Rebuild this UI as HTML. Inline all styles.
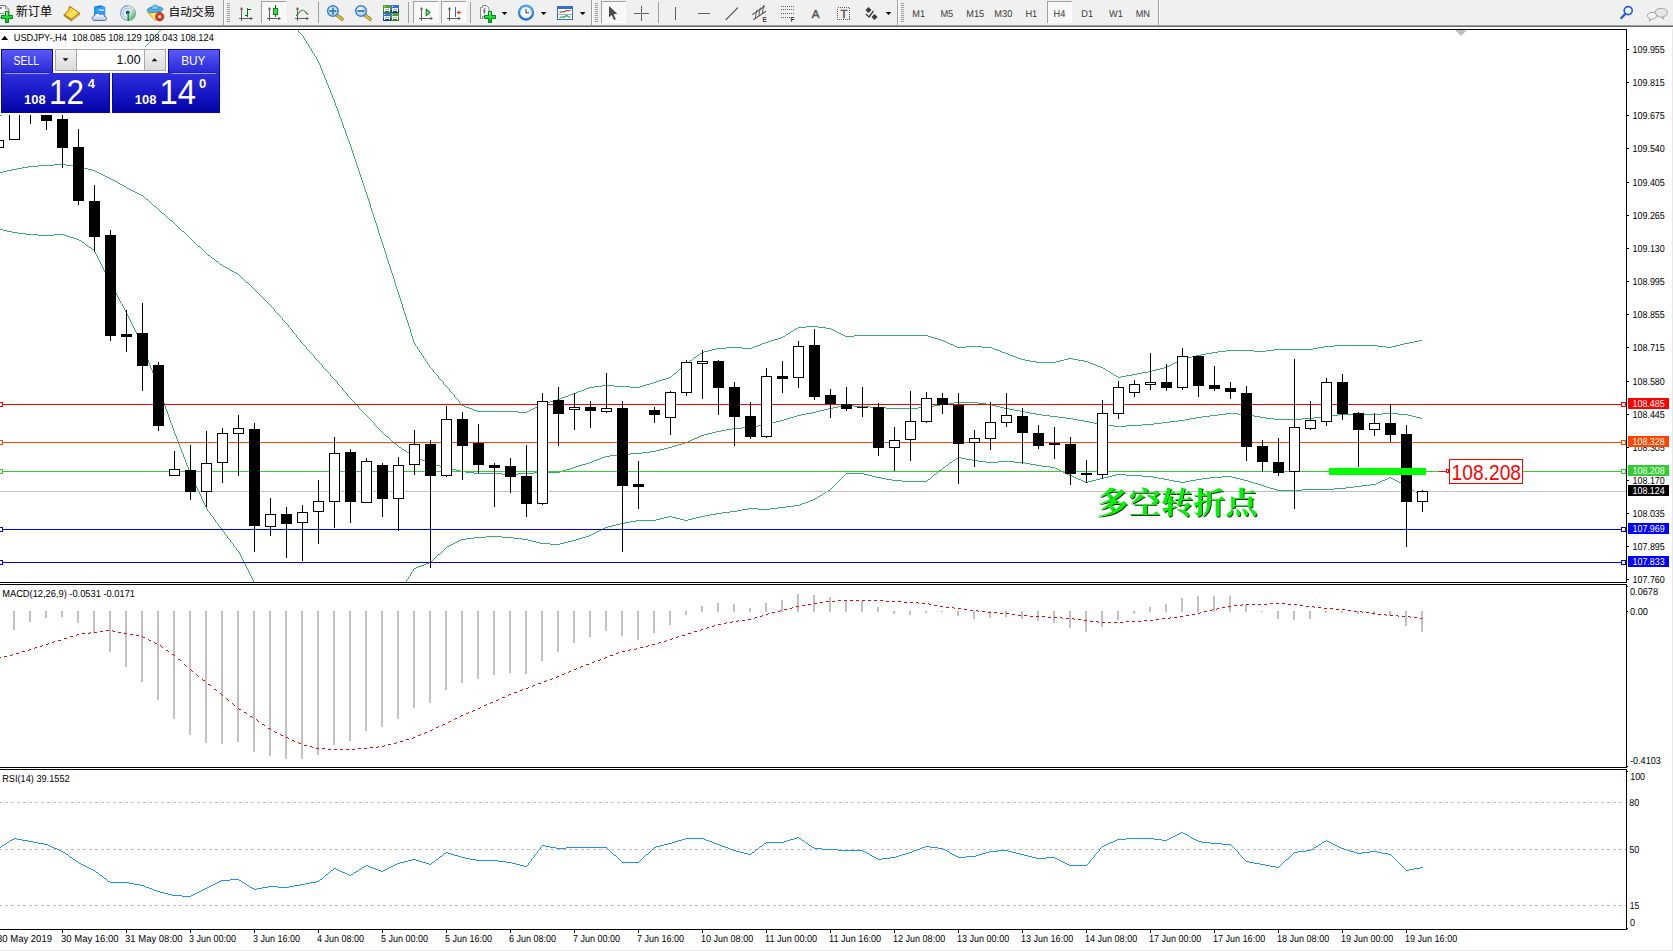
<!DOCTYPE html>
<html lang="zh-CN"><head><meta charset="utf-8"><title>USDJPY-,H4</title>
<style>
html,body{margin:0;padding:0;background:#fff;}
body{width:1673px;height:951px;overflow:hidden;position:relative;font-family:"Liberation Sans", sans-serif;}
.cv{position:absolute;left:0;top:0;display:block;}
.tb{position:absolute;left:0;top:0;width:1673px;height:29px;display:block;}
</style></head><body>
<svg class="cv" width="1673" height="951" viewBox="0 0 1673 951" shape-rendering="crispEdges">
<defs><clipPath id="cm"><rect x="0" y="30" width="1626" height="552"/></clipPath><linearGradient id="gs" x1="0" y1="0" x2="0" y2="1"><stop offset="0" stop-color="#5a5af8"/><stop offset="1" stop-color="#2424d6"/></linearGradient><linearGradient id="gp" x1="0" y1="0" x2="0" y2="1"><stop offset="0" stop-color="#3030de"/><stop offset="0.55" stop-color="#1616c4"/><stop offset="1" stop-color="#0404a6"/></linearGradient><linearGradient id="gbtn" x1="0" y1="0" x2="0" y2="1"><stop offset="0" stop-color="#f2f2f2"/><stop offset="1" stop-color="#dcdcdc"/></linearGradient><filter id="sh" x="-5%" y="-20%" width="110%" height="140%"><feOffset in="SourceAlpha" dx="0.9" dy="0.5" result="o"/><feFlood flood-color="#0a300a"/><feComposite in2="o" operator="in" result="s"/><feMerge><feMergeNode in="s"/><feMergeNode in="SourceGraphic"/></feMerge></filter></defs>
<g clip-path="url(#cm)">
<path d="M0 115h2v1h-2zM0 172h3v1h-3zM0 229h3v1h-3zM2 114h2v1h-2zM3 171h4v1h-4zM3 230h4v1h-4zM4 113h2v1h-2zM6 112h3v1h-3zM7 170h5v1h-5zM7 231h5v1h-5zM9 111h2v1h-2zM11 110h2v1h-2zM12 169h5v1h-5zM12 232h6v1h-6zM13 109h2v1h-2zM15 108h2v1h-2zM17 107h2v1h-2zM17 168h5v1h-5zM18 233h8v1h-8zM19 106h2v1h-2zM21 105h2v1h-2zM22 167h6v1h-6zM23 104h2v1h-2zM25 103h2v1h-2zM26 234h12v1h-12zM27 102h2v1h-2zM28 166h10v1h-10zM29 101h3v1h-3zM32 100h2v1h-2zM34 99h2v1h-2zM36 98h2v1h-2zM38 97h3v1h-3zM38 165h16v1h-16zM38 235h16v1h-16zM41 96h2v1h-2zM43 95h2v1h-2zM45 94h2v1h-2zM47 93h2v1h-2zM49 92h2v1h-2zM51 91h2v1h-2zM53 90h2v1h-2zM54 234h10v1h-10zM54 164h12v1h-12zM55 89h2v1h-2zM57 88h2v1h-2zM59 87h2v1h-2zM61 86h3v1h-3zM64 85h2v1h-2zM64 235h3v1h-3zM66 84h2v1h-2zM66 165h8v1h-8zM67 236h3v1h-3zM68 83h2v1h-2zM70 82h3v1h-3zM70 237h4v1h-4zM73 81h2v1h-2zM74 238h3v1h-3zM74 166h6v1h-6zM75 80h2v1h-2zM77 239h2v1h-2zM77 79h3v1h-3zM79 240h2v1h-2zM80 78h2v1h-2zM80 167h4v1h-4zM81 241h1v1h-1zM82 77h2v1h-2zM82 242h2v1h-2zM84 243h1v1h-1zM84 76h2v1h-2zM84 168h4v1h-4zM85 244h1v1h-1zM86 245h2v1h-2zM86 75h3v1h-3zM88 246h1v1h-1zM88 169h4v1h-4zM89 74h2v1h-2zM89 247h2v1h-2zM91 248h1v1h-1zM91 73h2v1h-2zM92 249h2v1h-2zM92 170h3v1h-3zM93 72h2v1h-2zM94 250h1v2h-1zM95 252h1v2h-1zM95 71h2v1h-2zM95 171h2v1h-2zM96 254h1v2h-1zM97 256h1v2h-1zM97 70h2v1h-2zM97 172h2v1h-2zM98 258h1v2h-1zM99 260h1v2h-1zM99 69h2v1h-2zM99 173h2v1h-2zM100 262h1v2h-1zM101 264h1v2h-1zM101 68h2v1h-2zM101 174h2v1h-2zM102 266h1v2h-1zM103 268h1v2h-1zM103 67h2v1h-2zM103 175h2v1h-2zM104 270h1v2h-1zM105 272h1v2h-1zM105 66h2v1h-2zM105 176h2v1h-2zM106 274h1v2h-1zM107 276h1v2h-1zM107 65h2v1h-2zM107 177h2v1h-2zM108 278h1v2h-1zM109 280h1v2h-1zM109 64h2v1h-2zM109 178h2v1h-2zM110 282h1v2h-1zM111 284h1v2h-1zM111 63h2v1h-2zM111 179h2v1h-2zM112 286h1v2h-1zM113 288h1v2h-1zM113 62h2v1h-2zM113 180h2v1h-2zM114 290h1v2h-1zM115 292h1v1h-1zM115 61h2v1h-2zM115 181h2v1h-2zM116 293h1v2h-1zM117 182h1v1h-1zM117 295h1v2h-1zM117 60h2v1h-2zM118 297h1v2h-1zM118 183h2v1h-2zM119 299h1v2h-1zM119 59h2v1h-2zM120 301h1v2h-1zM120 184h2v1h-2zM121 303h1v1h-1zM121 58h2v1h-2zM122 304h1v2h-1zM122 185h2v1h-2zM123 306h1v2h-1zM123 57h2v1h-2zM124 308h1v2h-1zM124 186h2v1h-2zM125 310h1v2h-1zM125 56h3v1h-3zM126 187h1v1h-1zM126 312h1v2h-1zM127 314h1v2h-1zM127 188h2v1h-2zM128 316h1v2h-1zM128 55h2v1h-2zM129 318h1v2h-1zM129 189h2v1h-2zM130 320h1v2h-1zM130 54h2v1h-2zM131 322h1v2h-1zM131 190h2v1h-2zM132 324h1v2h-1zM132 53h2v1h-2zM133 326h1v2h-1zM133 191h2v1h-2zM134 328h1v2h-1zM134 52h3v1h-3zM135 330h1v2h-1zM135 192h2v1h-2zM136 332h1v2h-1zM137 334h1v2h-1zM137 51h2v1h-2zM137 193h2v1h-2zM138 336h1v2h-1zM139 338h1v2h-1zM139 50h2v1h-2zM139 194h2v1h-2zM140 340h1v2h-1zM141 342h1v2h-1zM141 49h2v1h-2zM141 195h2v1h-2zM142 344h1v3h-1zM143 48h1v1h-1zM143 196h1v1h-1zM143 347h1v2h-1zM144 47h1v1h-1zM144 197h1v1h-1zM144 349h1v3h-1zM145 46h1v1h-1zM145 198h1v1h-1zM145 352h1v3h-1zM146 45h1v1h-1zM146 355h1v2h-1zM146 199h2v1h-2zM147 44h1v1h-1zM147 357h1v3h-1zM148 43h1v1h-1zM148 200h1v1h-1zM148 360h1v3h-1zM149 42h1v1h-1zM149 201h1v1h-1zM149 363h1v2h-1zM150 40h1v2h-1zM150 202h1v1h-1zM150 365h1v3h-1zM151 39h1v1h-1zM151 203h1v1h-1zM151 368h1v2h-1zM152 38h1v1h-1zM152 204h1v1h-1zM152 370h1v3h-1zM153 37h1v1h-1zM153 205h1v1h-1zM153 373h1v3h-1zM154 36h1v1h-1zM154 376h1v2h-1zM154 206h2v1h-2zM155 35h1v1h-1zM155 378h1v3h-1zM156 34h1v1h-1zM156 207h1v1h-1zM156 381h1v3h-1zM157 33h1v1h-1zM157 208h1v1h-1zM157 384h1v2h-1zM158 32h1v1h-1zM158 209h1v1h-1zM158 386h1v3h-1zM159 31h1v1h-1zM159 210h1v1h-1zM159 389h1v3h-1zM160 30h1v1h-1zM160 211h1v1h-1zM160 392h1v3h-1zM161 212h1v1h-1zM161 395h1v2h-1zM162 397h1v3h-1zM162 213h2v1h-2zM163 400h1v3h-1zM164 214h1v1h-1zM164 403h1v3h-1zM165 215h1v1h-1zM165 406h1v3h-1zM166 216h1v1h-1zM166 409h1v2h-1zM167 217h1v1h-1zM167 411h1v3h-1zM168 218h1v1h-1zM168 414h1v3h-1zM169 219h1v1h-1zM169 417h1v3h-1zM170 420h1v3h-1zM170 220h2v1h-2zM171 423h1v2h-1zM172 221h1v1h-1zM172 425h1v3h-1zM173 222h1v1h-1zM173 428h1v3h-1zM174 223h1v1h-1zM174 431h1v3h-1zM175 224h1v1h-1zM175 434h1v2h-1zM176 225h1v1h-1zM176 436h1v3h-1zM177 226h1v1h-1zM177 439h1v2h-1zM178 227h1v1h-1zM178 441h1v3h-1zM179 228h1v1h-1zM179 444h1v3h-1zM180 229h1v1h-1zM180 447h1v2h-1zM181 230h1v1h-1zM181 449h1v3h-1zM182 452h1v2h-1zM182 231h2v1h-2zM183 454h1v3h-1zM184 232h1v1h-1zM184 457h1v2h-1zM185 233h1v1h-1zM185 459h1v3h-1zM186 234h1v1h-1zM186 462h1v3h-1zM187 235h1v1h-1zM187 465h1v2h-1zM188 236h1v1h-1zM188 467h1v3h-1zM189 237h1v1h-1zM189 470h1v2h-1zM190 238h1v1h-1zM190 472h1v3h-1zM191 239h1v1h-1zM191 475h1v2h-1zM192 240h1v1h-1zM192 477h1v2h-1zM193 241h1v1h-1zM193 479h1v2h-1zM194 242h1v1h-1zM194 481h1v2h-1zM195 243h1v1h-1zM195 483h1v3h-1zM196 244h1v1h-1zM196 486h1v2h-1zM197 245h1v1h-1zM197 488h1v2h-1zM198 490h1v2h-1zM198 246h2v1h-2zM199 492h1v2h-1zM200 247h1v1h-1zM200 494h1v2h-1zM201 248h1v1h-1zM201 496h1v3h-1zM202 249h1v1h-1zM202 499h1v2h-1zM203 250h1v1h-1zM203 501h1v2h-1zM204 251h1v1h-1zM204 503h1v2h-1zM205 252h1v1h-1zM205 505h1v2h-1zM206 253h1v1h-1zM206 507h1v2h-1zM207 254h1v1h-1zM207 509h1v2h-1zM208 511h1v1h-1zM208 255h2v1h-2zM209 512h1v1h-1zM210 256h1v1h-1zM210 513h1v2h-1zM211 257h1v1h-1zM211 515h1v1h-1zM212 516h1v1h-1zM212 258h2v1h-2zM213 517h1v2h-1zM214 259h1v1h-1zM214 519h1v1h-1zM215 260h1v1h-1zM215 520h1v2h-1zM216 522h1v1h-1zM216 261h2v1h-2zM217 523h1v1h-1zM218 262h1v1h-1zM218 524h1v2h-1zM219 263h1v1h-1zM219 526h1v1h-1zM220 527h1v1h-1zM220 264h2v1h-2zM221 528h1v2h-1zM222 265h1v1h-1zM222 530h1v1h-1zM223 531h1v1h-1zM223 266h2v1h-2zM224 532h1v2h-1zM225 534h1v1h-1zM225 267h2v1h-2zM226 535h1v1h-1zM227 536h1v2h-1zM227 268h2v1h-2zM228 538h1v1h-1zM229 269h1v1h-1zM229 539h1v1h-1zM230 540h1v2h-1zM230 270h2v1h-2zM231 542h1v1h-1zM232 543h1v1h-1zM232 271h2v1h-2zM233 544h1v2h-1zM234 546h1v1h-1zM234 272h2v1h-2zM235 547h1v1h-1zM236 548h1v2h-1zM236 273h2v1h-2zM237 550h1v1h-1zM238 274h1v1h-1zM238 551h1v1h-1zM239 275h1v1h-1zM239 552h1v2h-1zM240 276h1v1h-1zM240 554h1v2h-1zM241 277h1v1h-1zM241 556h1v2h-1zM242 278h1v1h-1zM242 558h1v2h-1zM243 279h1v1h-1zM243 560h1v2h-1zM244 280h1v1h-1zM244 562h1v2h-1zM245 281h1v1h-1zM245 564h1v2h-1zM246 566h1v2h-1zM246 282h2v1h-2zM247 568h1v2h-1zM248 283h1v1h-1zM248 570h1v2h-1zM249 284h1v1h-1zM249 572h1v2h-1zM250 285h1v1h-1zM250 574h1v2h-1zM251 286h1v1h-1zM251 576h1v2h-1zM252 287h1v1h-1zM252 578h1v2h-1zM253 288h1v1h-1zM253 580h1v2h-1zM254 289h1v1h-1zM255 290h1v1h-1zM256 291h1v1h-1zM257 292h1v1h-1zM258 293h1v1h-1zM259 294h1v1h-1zM260 295h1v1h-1zM261 296h1v1h-1zM262 297h1v1h-1zM263 298h1v1h-1zM264 299h1v1h-1zM265 300h1v1h-1zM266 301h1v1h-1zM267 302h1v1h-1zM268 303h1v1h-1zM269 304h1v1h-1zM270 305h1v1h-1zM271 306h1v1h-1zM272 307h1v1h-1zM273 308h1v1h-1zM274 309h1v2h-1zM275 311h1v1h-1zM276 312h1v1h-1zM277 313h1v1h-1zM278 314h1v1h-1zM279 315h1v1h-1zM280 316h1v1h-1zM281 317h1v1h-1zM282 318h1v2h-1zM283 320h1v1h-1zM284 321h1v1h-1zM285 322h1v1h-1zM286 323h1v1h-1zM287 324h1v1h-1zM288 325h1v2h-1zM289 327h1v1h-1zM290 328h1v1h-1zM291 329h1v1h-1zM292 330h1v2h-1zM293 332h1v1h-1zM294 333h1v1h-1zM295 334h1v1h-1zM296 335h1v2h-1zM297 337h1v1h-1zM298 30h1v2h-1zM298 338h1v1h-1zM299 32h1v1h-1zM299 339h1v1h-1zM300 33h1v1h-1zM300 340h1v2h-1zM301 34h1v1h-1zM301 342h1v1h-1zM302 35h1v1h-1zM302 343h1v1h-1zM303 36h1v2h-1zM303 344h1v1h-1zM304 38h1v2h-1zM304 345h1v1h-1zM305 40h1v1h-1zM305 346h1v1h-1zM306 41h1v2h-1zM306 347h1v2h-1zM307 43h1v1h-1zM307 349h1v1h-1zM308 44h1v2h-1zM308 350h1v1h-1zM309 46h1v2h-1zM309 351h1v1h-1zM310 48h1v1h-1zM310 352h1v1h-1zM311 49h1v2h-1zM311 353h1v1h-1zM312 51h1v2h-1zM312 354h1v1h-1zM313 53h1v1h-1zM313 355h1v1h-1zM314 54h1v2h-1zM314 356h1v2h-1zM315 56h1v1h-1zM315 358h1v1h-1zM316 57h1v2h-1zM316 359h1v1h-1zM317 59h1v2h-1zM317 360h1v1h-1zM318 61h1v2h-1zM318 361h1v1h-1zM319 63h1v2h-1zM319 362h1v1h-1zM320 65h1v3h-1zM320 363h1v1h-1zM321 68h1v2h-1zM321 364h1v1h-1zM322 70h1v3h-1zM322 365h1v2h-1zM323 73h1v2h-1zM323 367h1v1h-1zM324 75h1v3h-1zM324 368h1v1h-1zM325 78h1v2h-1zM325 369h1v1h-1zM326 80h1v3h-1zM326 370h1v1h-1zM327 83h1v2h-1zM327 371h1v1h-1zM328 85h1v3h-1zM328 372h1v1h-1zM329 88h1v2h-1zM329 373h1v1h-1zM330 90h1v3h-1zM330 374h1v2h-1zM331 93h1v2h-1zM331 376h1v1h-1zM332 95h1v3h-1zM332 377h1v1h-1zM333 98h1v2h-1zM333 378h1v1h-1zM334 100h1v3h-1zM334 379h1v1h-1zM335 103h1v3h-1zM335 380h1v1h-1zM336 106h1v2h-1zM336 381h1v1h-1zM337 108h1v3h-1zM337 382h1v2h-1zM338 111h1v3h-1zM338 384h1v1h-1zM339 114h1v3h-1zM339 385h1v1h-1zM340 117h1v2h-1zM340 386h1v1h-1zM341 119h1v3h-1zM341 387h1v1h-1zM342 122h1v3h-1zM342 388h1v2h-1zM343 125h1v3h-1zM343 390h1v1h-1zM344 128h1v2h-1zM344 391h1v1h-1zM345 130h1v3h-1zM345 392h1v1h-1zM346 133h1v3h-1zM346 393h1v1h-1zM347 136h1v3h-1zM347 394h1v2h-1zM348 139h1v2h-1zM348 396h1v1h-1zM349 141h1v3h-1zM349 397h1v1h-1zM350 144h1v3h-1zM350 398h1v1h-1zM351 147h1v3h-1zM351 399h1v1h-1zM352 150h1v3h-1zM352 400h1v1h-1zM353 153h1v3h-1zM353 401h1v1h-1zM354 156h1v3h-1zM354 402h1v1h-1zM355 159h1v3h-1zM355 403h1v1h-1zM356 162h1v3h-1zM356 404h1v1h-1zM357 165h1v3h-1zM357 405h1v1h-1zM358 168h1v3h-1zM358 406h1v2h-1zM359 171h1v3h-1zM359 408h1v1h-1zM360 174h1v3h-1zM360 409h1v1h-1zM361 177h1v3h-1zM361 410h1v1h-1zM362 180h1v3h-1zM362 411h1v1h-1zM363 183h1v3h-1zM363 412h1v1h-1zM364 186h1v3h-1zM364 413h1v1h-1zM365 189h1v3h-1zM365 414h1v1h-1zM366 192h1v3h-1zM366 415h1v1h-1zM367 195h1v3h-1zM367 416h1v1h-1zM368 198h1v3h-1zM368 417h1v1h-1zM369 201h1v3h-1zM369 418h1v1h-1zM370 204h1v4h-1zM370 419h1v1h-1zM371 208h1v3h-1zM371 420h1v1h-1zM372 211h1v3h-1zM372 421h1v1h-1zM373 214h1v3h-1zM373 422h1v1h-1zM374 217h1v3h-1zM374 423h1v2h-1zM375 220h1v3h-1zM375 425h1v1h-1zM376 223h1v3h-1zM376 426h1v1h-1zM377 226h1v3h-1zM377 427h1v1h-1zM378 229h1v4h-1zM378 428h1v1h-1zM379 233h1v3h-1zM379 429h1v1h-1zM380 236h1v3h-1zM380 430h1v1h-1zM381 239h1v3h-1zM381 431h1v1h-1zM382 242h1v3h-1zM382 432h1v1h-1zM383 245h1v3h-1zM383 433h1v1h-1zM384 248h1v3h-1zM384 434h1v1h-1zM385 251h1v3h-1zM385 435h1v1h-1zM386 254h1v4h-1zM386 436h2v1h-2zM387 258h1v3h-1zM388 261h1v3h-1zM388 437h1v1h-1zM389 264h1v3h-1zM389 438h1v1h-1zM390 267h1v3h-1zM390 439h1v1h-1zM391 270h1v3h-1zM391 440h1v1h-1zM392 273h1v3h-1zM392 441h1v1h-1zM393 276h1v3h-1zM393 442h1v1h-1zM394 279h1v4h-1zM394 443h2v1h-2zM395 283h1v3h-1zM396 286h1v3h-1zM396 444h1v1h-1zM397 289h1v3h-1zM397 445h1v1h-1zM398 292h1v3h-1zM398 446h1v1h-1zM399 295h1v3h-1zM399 447h2v1h-2zM400 298h1v3h-1zM401 301h1v3h-1zM401 448h1v1h-1zM402 304h1v4h-1zM402 449h2v1h-2zM403 308h1v3h-1zM404 311h1v3h-1zM404 450h2v1h-2zM405 314h1v3h-1zM406 317h1v3h-1zM406 451h1v1h-1zM406 580h1v2h-1zM407 320h1v3h-1zM407 579h1v1h-1zM407 452h2v1h-2zM408 323h1v3h-1zM408 577h1v2h-1zM409 326h1v3h-1zM409 453h1v1h-1zM409 576h1v1h-1zM410 329h1v4h-1zM410 574h1v2h-1zM410 454h2v1h-2zM411 333h1v3h-1zM411 572h1v2h-1zM412 336h1v3h-1zM412 571h1v1h-1zM412 455h2v1h-2zM413 339h1v3h-1zM413 569h1v2h-1zM414 342h1v2h-1zM414 456h2v1h-2zM414 568h2v1h-2zM415 344h1v2h-1zM416 346h1v1h-1zM416 457h2v1h-2zM416 567h2v1h-2zM417 347h1v2h-1zM418 349h1v1h-1zM418 458h2v1h-2zM418 566h3v1h-3zM419 350h1v2h-1zM420 352h1v1h-1zM420 459h2v1h-2zM421 353h1v2h-1zM421 565h3v1h-3zM422 355h1v1h-1zM422 460h3v1h-3zM423 356h1v2h-1zM424 358h1v1h-1zM424 564h2v1h-2zM425 359h1v2h-1zM425 461h2v1h-2zM426 361h1v1h-1zM426 563h3v1h-3zM427 362h1v2h-1zM427 462h2v1h-2zM428 364h1v1h-1zM429 365h1v2h-1zM429 562h2v1h-2zM429 463h3v1h-3zM430 367h1v1h-1zM431 368h1v1h-1zM431 561h1v1h-1zM432 369h1v1h-1zM432 560h1v1h-1zM432 464h4v1h-4zM433 370h1v2h-1zM433 559h1v1h-1zM434 372h1v1h-1zM434 558h1v1h-1zM435 373h1v1h-1zM435 557h1v1h-1zM436 374h1v1h-1zM436 556h1v1h-1zM436 465h4v1h-4zM437 375h1v1h-1zM437 555h1v1h-1zM438 376h1v2h-1zM438 554h2v1h-2zM439 378h1v1h-1zM440 379h1v1h-1zM440 553h1v1h-1zM440 466h4v1h-4zM441 380h1v1h-1zM441 552h1v1h-1zM442 381h1v1h-1zM442 551h1v1h-1zM443 382h1v2h-1zM443 550h1v1h-1zM444 384h1v1h-1zM444 549h1v1h-1zM444 467h4v1h-4zM445 385h1v1h-1zM445 548h1v1h-1zM446 386h1v1h-1zM446 547h1v1h-1zM447 387h1v1h-1zM447 546h2v1h-2zM448 388h1v1h-1zM448 468h4v1h-4zM449 389h1v2h-1zM449 545h2v1h-2zM450 391h1v1h-1zM451 392h1v1h-1zM451 544h2v1h-2zM452 393h1v1h-1zM452 469h4v1h-4zM453 394h1v1h-1zM453 543h2v1h-2zM454 395h1v2h-1zM455 397h1v1h-1zM455 542h2v1h-2zM456 398h1v1h-1zM456 470h4v1h-4zM457 399h1v1h-1zM457 541h2v1h-2zM458 400h1v1h-1zM459 401h1v2h-1zM459 540h2v1h-2zM460 403h1v1h-1zM460 471h6v1h-6zM461 404h1v1h-1zM461 539h5v1h-5zM462 405h2v1h-2zM464 406h2v1h-2zM466 407h3v1h-3zM466 472h8v1h-8zM466 538h8v1h-8zM469 408h3v1h-3zM472 409h2v1h-2zM474 410h3v1h-3zM474 537h12v1h-12zM474 473h28v1h-28zM477 411h41v1h-41zM486 536h16v1h-16zM502 537h12v1h-12zM502 474h16v1h-16zM514 538h8v1h-8zM518 412h9v1h-9zM518 473h16v1h-16zM522 539h6v1h-6zM527 411h2v1h-2zM528 540h4v1h-4zM529 410h2v1h-2zM531 409h2v1h-2zM532 541h4v1h-4zM533 408h2v1h-2zM534 472h26v1h-26zM535 407h2v1h-2zM536 542h4v1h-4zM537 406h2v1h-2zM539 405h2v1h-2zM540 543h10v1h-10zM541 404h3v1h-3zM544 403h3v1h-3zM547 402h3v1h-3zM550 401h4v1h-4zM550 544h10v1h-10zM554 400h3v1h-3zM557 399h3v1h-3zM560 398h2v1h-2zM560 471h3v1h-3zM560 543h4v1h-4zM562 397h3v1h-3zM563 470h3v1h-3zM564 542h4v1h-4zM565 396h3v1h-3zM566 469h4v1h-4zM568 395h2v1h-2zM568 541h4v1h-4zM570 394h3v1h-3zM570 468h3v1h-3zM572 540h4v1h-4zM573 393h3v1h-3zM573 467h3v1h-3zM576 392h2v1h-2zM576 466h3v1h-3zM576 539h3v1h-3zM578 391h3v1h-3zM579 465h3v1h-3zM579 538h3v1h-3zM581 390h3v1h-3zM582 464h4v1h-4zM582 537h4v1h-4zM584 389h2v1h-2zM586 388h3v1h-3zM586 463h3v1h-3zM586 536h3v1h-3zM589 535h2v1h-2zM589 462h3v1h-3zM589 387h5v1h-5zM591 534h2v1h-2zM592 461h2v1h-2zM593 533h2v1h-2zM594 460h3v1h-3zM594 386h8v1h-8zM595 532h2v1h-2zM597 531h2v1h-2zM597 459h3v1h-3zM599 530h2v1h-2zM600 458h2v1h-2zM601 529h2v1h-2zM602 457h3v1h-3zM602 385h12v1h-12zM603 528h2v1h-2zM605 527h3v1h-3zM605 456h5v1h-5zM608 526h4v1h-4zM610 455h8v1h-8zM612 525h4v1h-4zM614 386h16v1h-16zM616 524h4v1h-4zM618 454h12v1h-12zM620 523h5v1h-5zM625 522h5v1h-5zM630 521h6v1h-6zM630 387h10v1h-10zM630 453h12v1h-12zM636 520h20v1h-20zM640 386h3v1h-3zM642 452h8v1h-8zM643 385h3v1h-3zM646 384h4v1h-4zM650 383h3v1h-3zM650 451h6v1h-6zM653 382h3v1h-3zM656 381h3v1h-3zM656 450h4v1h-4zM656 519h4v1h-4zM659 380h3v1h-3zM660 449h4v1h-4zM660 518h4v1h-4zM662 379h4v1h-4zM664 448h4v1h-4zM664 517h4v1h-4zM666 378h3v1h-3zM668 447h4v1h-4zM668 516h4v1h-4zM669 377h2v1h-2zM671 376h1v1h-1zM672 375h1v1h-1zM672 446h3v1h-3zM672 517h4v1h-4zM673 374h1v1h-1zM674 373h2v1h-2zM675 445h3v1h-3zM676 372h1v1h-1zM676 518h4v1h-4zM677 371h1v1h-1zM678 370h1v1h-1zM678 444h4v1h-4zM679 369h1v1h-1zM680 368h1v1h-1zM680 519h4v1h-4zM681 367h1v1h-1zM682 366h2v1h-2zM682 443h3v1h-3zM684 365h1v1h-1zM684 520h4v1h-4zM685 364h1v1h-1zM685 442h3v1h-3zM686 363h1v1h-1zM687 362h2v1h-2zM688 441h2v1h-2zM688 519h4v1h-4zM689 361h1v1h-1zM690 360h2v1h-2zM690 440h2v1h-2zM692 359h1v1h-1zM692 439h2v1h-2zM692 518h4v1h-4zM693 358h1v1h-1zM694 357h2v1h-2zM694 438h3v1h-3zM696 356h1v1h-1zM696 517h4v1h-4zM697 355h2v1h-2zM697 437h2v1h-2zM699 354h1v1h-1zM699 436h2v1h-2zM700 353h2v1h-2zM700 516h5v1h-5zM701 435h3v1h-3zM702 352h2v1h-2zM704 351h4v1h-4zM704 434h4v1h-4zM705 515h5v1h-5zM708 350h4v1h-4zM708 433h4v1h-4zM710 514h6v1h-6zM712 349h4v1h-4zM712 432h4v1h-4zM716 431h5v1h-5zM716 513h6v1h-6zM716 348h10v1h-10zM721 430h5v1h-5zM722 512h8v1h-8zM726 429h6v1h-6zM726 347h16v1h-16zM730 511h7v1h-7zM732 428h10v1h-10zM737 510h5v1h-5zM742 509h6v1h-6zM742 348h10v1h-10zM742 427h11v1h-11zM748 508h10v1h-10zM752 347h2v1h-2zM753 426h5v1h-5zM754 346h3v1h-3zM757 345h3v1h-3zM758 425h6v1h-6zM758 509h12v1h-12zM760 344h2v1h-2zM762 343h3v1h-3zM764 424h4v1h-4zM765 342h3v1h-3zM768 341h3v1h-3zM768 423h4v1h-4zM770 508h8v1h-8zM771 340h3v1h-3zM772 422h4v1h-4zM774 339h4v1h-4zM776 421h4v1h-4zM778 338h3v1h-3zM778 507h8v1h-8zM780 420h4v1h-4zM781 337h2v1h-2zM783 336h2v1h-2zM784 419h3v1h-3zM785 335h1v1h-1zM786 334h2v1h-2zM786 506h8v1h-8zM787 418h3v1h-3zM788 333h2v1h-2zM790 332h1v1h-1zM790 417h4v1h-4zM791 331h2v1h-2zM793 330h1v1h-1zM794 329h2v1h-2zM794 416h3v1h-3zM794 505h6v1h-6zM796 328h2v1h-2zM797 415h4v1h-4zM798 327h8v1h-8zM800 504h2v1h-2zM801 414h5v1h-5zM802 503h3v1h-3zM805 502h3v1h-3zM806 413h6v1h-6zM806 326h12v1h-12zM808 501h2v1h-2zM810 500h3v1h-3zM812 412h4v1h-4zM813 499h2v1h-2zM815 498h2v1h-2zM816 411h4v1h-4zM817 497h1v1h-1zM818 496h2v1h-2zM818 327h8v1h-8zM820 495h2v1h-2zM820 410h4v1h-4zM822 494h1v1h-1zM823 493h2v1h-2zM824 409h4v1h-4zM825 492h1v1h-1zM826 491h2v1h-2zM826 328h5v1h-5zM828 490h2v1h-2zM828 408h5v1h-5zM830 489h1v1h-1zM831 488h1v1h-1zM831 329h2v1h-2zM832 487h1v1h-1zM833 486h1v1h-1zM833 330h2v1h-2zM833 407h5v1h-5zM834 485h1v1h-1zM835 484h1v1h-1zM835 331h2v1h-2zM836 483h1v1h-1zM837 482h1v1h-1zM837 332h2v1h-2zM838 481h1v1h-1zM838 406h6v1h-6zM839 480h1v1h-1zM839 333h2v1h-2zM840 479h1v1h-1zM841 478h1v1h-1zM841 334h2v1h-2zM842 477h1v1h-1zM843 476h1v1h-1zM843 335h2v1h-2zM844 475h1v1h-1zM844 405h10v1h-10zM845 474h1v1h-1zM845 336h9v1h-9zM846 473h18v1h-18zM854 406h16v1h-16zM854 335h74v1h-74zM864 474h4v1h-4zM868 475h4v1h-4zM870 407h16v1h-16zM872 476h4v1h-4zM876 477h5v1h-5zM881 478h5v1h-5zM886 479h6v1h-6zM886 408h32v1h-32zM892 480h10v1h-10zM902 481h25v1h-25zM918 407h11v1h-11zM927 480h1v1h-1zM928 479h2v1h-2zM928 336h3v1h-3zM929 406h5v1h-5zM930 478h1v1h-1zM931 477h1v1h-1zM931 337h3v1h-3zM932 476h1v1h-1zM933 475h1v1h-1zM934 474h2v1h-2zM934 338h4v1h-4zM934 405h6v1h-6zM936 473h1v1h-1zM937 472h1v1h-1zM938 471h1v1h-1zM938 339h3v1h-3zM939 470h2v1h-2zM940 404h6v1h-6zM941 469h1v1h-1zM941 340h3v1h-3zM942 468h1v1h-1zM943 467h2v1h-2zM944 341h2v1h-2zM945 466h1v1h-1zM946 342h2v1h-2zM946 465h2v1h-2zM946 403h8v1h-8zM948 464h1v1h-1zM948 343h2v1h-2zM949 463h1v1h-1zM950 462h2v1h-2zM950 344h3v1h-3zM952 461h1v1h-1zM953 345h2v1h-2zM953 460h2v1h-2zM954 402h24v1h-24zM955 459h1v1h-1zM955 346h2v1h-2zM956 458h2v1h-2zM957 347h9v1h-9zM958 457h3v1h-3zM961 458h5v1h-5zM966 459h6v1h-6zM966 346h16v1h-16zM972 460h6v1h-6zM978 403h8v1h-8zM978 461h8v1h-8zM982 347h10v1h-10zM986 404h6v1h-6zM986 462h12v1h-12zM992 348h2v1h-2zM992 405h4v1h-4zM994 349h3v1h-3zM996 406h4v1h-4zM997 350h3v1h-3zM998 461h16v1h-16zM1000 351h2v1h-2zM1000 407h4v1h-4zM1002 352h3v1h-3zM1004 408h5v1h-5zM1005 353h3v1h-3zM1008 354h2v1h-2zM1009 409h5v1h-5zM1010 355h3v1h-3zM1013 356h3v1h-3zM1014 410h6v1h-6zM1014 462h11v1h-11zM1016 357h2v1h-2zM1018 358h3v1h-3zM1020 411h5v1h-5zM1021 359h4v1h-4zM1025 360h5v1h-5zM1025 412h5v1h-5zM1025 463h5v1h-5zM1030 361h6v1h-6zM1030 413h6v1h-6zM1030 464h6v1h-6zM1036 414h6v1h-6zM1036 465h6v1h-6zM1036 362h20v1h-20zM1042 415h8v1h-8zM1042 466h8v1h-8zM1050 467h5v1h-5zM1050 416h8v1h-8zM1055 468h2v1h-2zM1056 361h4v1h-4zM1057 469h2v1h-2zM1058 417h8v1h-8zM1059 470h2v1h-2zM1060 360h4v1h-4zM1061 471h2v1h-2zM1063 472h2v1h-2zM1064 359h4v1h-4zM1065 473h2v1h-2zM1066 418h7v1h-7zM1067 474h2v1h-2zM1068 358h5v1h-5zM1069 475h3v1h-3zM1072 476h2v1h-2zM1073 359h5v1h-5zM1073 419h5v1h-5zM1074 477h2v1h-2zM1076 478h2v1h-2zM1078 479h3v1h-3zM1078 360h6v1h-6zM1078 420h6v1h-6zM1081 480h2v1h-2zM1083 481h2v1h-2zM1084 361h4v1h-4zM1084 421h5v1h-5zM1085 482h3v1h-3zM1088 362h2v1h-2zM1088 481h4v1h-4zM1089 422h5v1h-5zM1090 363h3v1h-3zM1092 480h4v1h-4zM1093 364h3v1h-3zM1094 423h6v1h-6zM1096 365h2v1h-2zM1096 479h4v1h-4zM1098 366h3v1h-3zM1100 478h4v1h-4zM1100 424h6v1h-6zM1101 367h2v1h-2zM1103 368h2v1h-2zM1104 477h4v1h-4zM1105 369h1v1h-1zM1106 370h2v1h-2zM1106 425h8v1h-8zM1108 371h2v1h-2zM1108 476h4v1h-4zM1110 372h1v1h-1zM1111 373h2v1h-2zM1112 475h4v1h-4zM1113 374h1v1h-1zM1114 375h2v1h-2zM1114 426h12v1h-12zM1116 376h2v1h-2zM1116 474h10v1h-10zM1118 377h3v1h-3zM1121 376h5v1h-5zM1126 375h6v1h-6zM1126 425h16v1h-16zM1126 475h16v1h-16zM1132 374h5v1h-5zM1137 373h5v1h-5zM1142 372h6v1h-6zM1142 476h11v1h-11zM1142 424h12v1h-12zM1148 371h4v1h-4zM1152 370h4v1h-4zM1153 477h5v1h-5zM1154 423h8v1h-8zM1156 369h4v1h-4zM1158 478h6v1h-6zM1160 368h4v1h-4zM1162 422h8v1h-8zM1164 367h3v1h-3zM1164 479h5v1h-5zM1167 366h2v1h-2zM1169 365h2v1h-2zM1169 480h5v1h-5zM1170 421h8v1h-8zM1171 364h2v1h-2zM1173 363h2v1h-2zM1174 481h6v1h-6zM1175 362h2v1h-2zM1177 361h2v1h-2zM1178 420h7v1h-7zM1179 360h2v1h-2zM1180 482h5v1h-5zM1181 359h3v1h-3zM1184 358h4v1h-4zM1185 419h5v1h-5zM1185 481h5v1h-5zM1188 357h4v1h-4zM1190 418h6v1h-6zM1190 480h6v1h-6zM1192 356h4v1h-4zM1196 355h5v1h-5zM1196 417h6v1h-6zM1196 479h6v1h-6zM1201 354h5v1h-5zM1202 416h8v1h-8zM1202 478h8v1h-8zM1206 353h6v1h-6zM1210 415h8v1h-8zM1210 477h12v1h-12zM1212 352h6v1h-6zM1218 351h8v1h-8zM1218 414h8v1h-8zM1222 476h10v1h-10zM1226 413h12v1h-12zM1226 350h28v1h-28zM1232 477h4v1h-4zM1236 478h4v1h-4zM1238 414h11v1h-11zM1240 479h4v1h-4zM1244 480h4v1h-4zM1248 481h3v1h-3zM1249 415h5v1h-5zM1251 482h3v1h-3zM1254 483h4v1h-4zM1254 416h6v1h-6zM1254 351h12v1h-12zM1258 484h3v1h-3zM1260 417h6v1h-6zM1261 485h3v1h-3zM1264 486h3v1h-3zM1266 350h8v1h-8zM1266 418h8v1h-8zM1267 487h3v1h-3zM1270 488h4v1h-4zM1274 489h3v1h-3zM1274 419h28v1h-28zM1274 349h39v1h-39zM1277 490h25v1h-25zM1302 418h12v1h-12zM1302 489h32v1h-32zM1313 348h5v1h-5zM1314 417h8v1h-8zM1318 347h6v1h-6zM1322 416h8v1h-8zM1324 346h10v1h-10zM1330 415h8v1h-8zM1334 488h12v1h-12zM1334 345h44v1h-44zM1338 414h44v1h-44zM1346 487h8v1h-8zM1354 486h8v1h-8zM1362 485h8v1h-8zM1370 484h6v1h-6zM1376 483h2v1h-2zM1378 482h2v1h-2zM1378 346h8v1h-8zM1380 481h2v1h-2zM1382 480h3v1h-3zM1382 413h16v1h-16zM1385 479h2v1h-2zM1386 347h6v1h-6zM1387 478h2v1h-2zM1389 477h2v1h-2zM1391 478h2v1h-2zM1392 346h4v1h-4zM1393 479h2v1h-2zM1395 480h2v1h-2zM1396 345h4v1h-4zM1397 481h2v1h-2zM1398 414h10v1h-10zM1399 482h2v1h-2zM1400 344h4v1h-4zM1401 483h2v1h-2zM1403 484h2v1h-2zM1404 343h5v1h-5zM1405 485h2v1h-2zM1407 486h2v1h-2zM1408 415h4v1h-4zM1409 487h1v1h-1zM1409 342h5v1h-5zM1410 488h2v1h-2zM1412 489h1v1h-1zM1412 416h4v1h-4zM1413 490h1v1h-1zM1414 491h2v1h-2zM1414 341h5v1h-5zM1416 492h1v1h-1zM1416 417h4v1h-4zM1417 493h2v1h-2zM1419 494h1v1h-1zM1419 340h3v1h-3zM1420 418h2v1h-2zM1420 495h2v1h-2zM1422 496h1v1h-1z" fill="#36ad6c"/>
<rect x="0" y="404" width="1626" height="1" fill="#ff0000"/>
<rect x="0" y="442" width="1626" height="1" fill="#ff4500"/>
<rect x="0" y="471" width="1626" height="1" fill="#32cd32"/>
<rect x="0" y="491" width="1626" height="1" fill="#c0c0c0"/>
<rect x="0" y="529" width="1626" height="1" fill="#0000ff"/>
<rect x="0" y="562" width="1626" height="1" fill="#0000ff"/>
<rect x="-2" y="140" width="1" height="8" fill="#000"/>
<rect x="-7" y="140" width="11" height="8" fill="#000"/>
<rect x="-6" y="141" width="9" height="6" fill="#fff"/>
<rect x="14" y="100" width="1" height="40" fill="#000"/>
<rect x="9" y="100" width="11" height="40" fill="#000"/>
<rect x="10" y="101" width="9" height="38" fill="#fff"/>
<rect x="30" y="100" width="1" height="24" fill="#000"/>
<rect x="25" y="100" width="11" height="2" fill="#000"/>
<rect x="46" y="100" width="1" height="30" fill="#000"/>
<rect x="41" y="100" width="11" height="21" fill="#000"/>
<rect x="62" y="100" width="1" height="68" fill="#000"/>
<rect x="57" y="119" width="11" height="29" fill="#000"/>
<rect x="78" y="129" width="1" height="76" fill="#000"/>
<rect x="73" y="147" width="11" height="54" fill="#000"/>
<rect x="94" y="185" width="1" height="67" fill="#000"/>
<rect x="89" y="201" width="11" height="36" fill="#000"/>
<rect x="110" y="230" width="1" height="111" fill="#000"/>
<rect x="105" y="235" width="11" height="101" fill="#000"/>
<rect x="126" y="310" width="1" height="42" fill="#000"/>
<rect x="121" y="334" width="11" height="3" fill="#000"/>
<rect x="142" y="303" width="1" height="88" fill="#000"/>
<rect x="137" y="333" width="11" height="33" fill="#000"/>
<rect x="158" y="362" width="1" height="69" fill="#000"/>
<rect x="153" y="365" width="11" height="61" fill="#000"/>
<rect x="174" y="451" width="1" height="25" fill="#000"/>
<rect x="169" y="469" width="11" height="7" fill="#000"/>
<rect x="170" y="470" width="9" height="5" fill="#fff"/>
<rect x="190" y="445" width="1" height="55" fill="#000"/>
<rect x="185" y="470" width="11" height="22" fill="#000"/>
<rect x="206" y="431" width="1" height="76" fill="#000"/>
<rect x="201" y="463" width="11" height="29" fill="#000"/>
<rect x="202" y="464" width="9" height="27" fill="#fff"/>
<rect x="222" y="428" width="1" height="55" fill="#000"/>
<rect x="217" y="433" width="11" height="30" fill="#000"/>
<rect x="218" y="434" width="9" height="28" fill="#fff"/>
<rect x="238" y="415" width="1" height="61" fill="#000"/>
<rect x="233" y="428" width="11" height="6" fill="#000"/>
<rect x="234" y="429" width="9" height="4" fill="#fff"/>
<rect x="254" y="423" width="1" height="129" fill="#000"/>
<rect x="249" y="429" width="11" height="97" fill="#000"/>
<rect x="270" y="498" width="1" height="38" fill="#000"/>
<rect x="265" y="514" width="11" height="13" fill="#000"/>
<rect x="266" y="515" width="9" height="11" fill="#fff"/>
<rect x="286" y="507" width="1" height="51" fill="#000"/>
<rect x="281" y="514" width="11" height="10" fill="#000"/>
<rect x="302" y="505" width="1" height="56" fill="#000"/>
<rect x="297" y="512" width="11" height="11" fill="#000"/>
<rect x="298" y="513" width="9" height="9" fill="#fff"/>
<rect x="318" y="480" width="1" height="64" fill="#000"/>
<rect x="313" y="501" width="11" height="11" fill="#000"/>
<rect x="314" y="502" width="9" height="9" fill="#fff"/>
<rect x="334" y="437" width="1" height="91" fill="#000"/>
<rect x="329" y="453" width="11" height="49" fill="#000"/>
<rect x="330" y="454" width="9" height="47" fill="#fff"/>
<rect x="350" y="449" width="1" height="74" fill="#000"/>
<rect x="345" y="452" width="11" height="50" fill="#000"/>
<rect x="366" y="458" width="1" height="45" fill="#000"/>
<rect x="361" y="461" width="11" height="42" fill="#000"/>
<rect x="362" y="462" width="9" height="40" fill="#fff"/>
<rect x="382" y="463" width="1" height="54" fill="#000"/>
<rect x="377" y="465" width="11" height="34" fill="#000"/>
<rect x="398" y="457" width="1" height="74" fill="#000"/>
<rect x="393" y="465" width="11" height="34" fill="#000"/>
<rect x="394" y="466" width="9" height="32" fill="#fff"/>
<rect x="414" y="430" width="1" height="45" fill="#000"/>
<rect x="409" y="444" width="11" height="21" fill="#000"/>
<rect x="410" y="445" width="9" height="19" fill="#fff"/>
<rect x="430" y="440" width="1" height="128" fill="#000"/>
<rect x="425" y="444" width="11" height="32" fill="#000"/>
<rect x="446" y="406" width="1" height="71" fill="#000"/>
<rect x="441" y="419" width="11" height="57" fill="#000"/>
<rect x="442" y="420" width="9" height="55" fill="#fff"/>
<rect x="462" y="412" width="1" height="68" fill="#000"/>
<rect x="457" y="419" width="11" height="27" fill="#000"/>
<rect x="478" y="424" width="1" height="49" fill="#000"/>
<rect x="473" y="443" width="11" height="22" fill="#000"/>
<rect x="494" y="463" width="1" height="44" fill="#000"/>
<rect x="489" y="465" width="11" height="3" fill="#000"/>
<rect x="510" y="458" width="1" height="35" fill="#000"/>
<rect x="505" y="466" width="11" height="11" fill="#000"/>
<rect x="526" y="445" width="1" height="72" fill="#000"/>
<rect x="521" y="476" width="11" height="28" fill="#000"/>
<rect x="542" y="393" width="1" height="112" fill="#000"/>
<rect x="537" y="401" width="11" height="103" fill="#000"/>
<rect x="538" y="402" width="9" height="101" fill="#fff"/>
<rect x="558" y="387" width="1" height="59" fill="#000"/>
<rect x="553" y="400" width="11" height="14" fill="#000"/>
<rect x="574" y="393" width="1" height="37" fill="#000"/>
<rect x="569" y="407" width="11" height="3" fill="#000"/>
<rect x="570" y="408" width="9" height="1" fill="#fff"/>
<rect x="590" y="401" width="1" height="27" fill="#000"/>
<rect x="585" y="407" width="11" height="4" fill="#000"/>
<rect x="606" y="373" width="1" height="40" fill="#000"/>
<rect x="601" y="408" width="11" height="4" fill="#000"/>
<rect x="602" y="409" width="9" height="2" fill="#fff"/>
<rect x="622" y="401" width="1" height="151" fill="#000"/>
<rect x="617" y="408" width="11" height="78" fill="#000"/>
<rect x="638" y="461" width="1" height="48" fill="#000"/>
<rect x="633" y="484" width="11" height="3" fill="#000"/>
<rect x="654" y="407" width="1" height="16" fill="#000"/>
<rect x="649" y="410" width="11" height="5" fill="#000"/>
<rect x="670" y="391" width="1" height="44" fill="#000"/>
<rect x="665" y="392" width="11" height="26" fill="#000"/>
<rect x="666" y="393" width="9" height="24" fill="#fff"/>
<rect x="686" y="360" width="1" height="36" fill="#000"/>
<rect x="681" y="362" width="11" height="31" fill="#000"/>
<rect x="682" y="363" width="9" height="29" fill="#fff"/>
<rect x="702" y="350" width="1" height="49" fill="#000"/>
<rect x="697" y="361" width="11" height="3" fill="#000"/>
<rect x="698" y="362" width="9" height="1" fill="#fff"/>
<rect x="718" y="360" width="1" height="55" fill="#000"/>
<rect x="713" y="361" width="11" height="27" fill="#000"/>
<rect x="734" y="382" width="1" height="64" fill="#000"/>
<rect x="729" y="387" width="11" height="30" fill="#000"/>
<rect x="750" y="402" width="1" height="37" fill="#000"/>
<rect x="745" y="416" width="11" height="21" fill="#000"/>
<rect x="766" y="368" width="1" height="70" fill="#000"/>
<rect x="761" y="376" width="11" height="61" fill="#000"/>
<rect x="762" y="377" width="9" height="59" fill="#fff"/>
<rect x="782" y="361" width="1" height="32" fill="#000"/>
<rect x="777" y="376" width="11" height="3" fill="#000"/>
<rect x="798" y="341" width="1" height="47" fill="#000"/>
<rect x="793" y="346" width="11" height="32" fill="#000"/>
<rect x="794" y="347" width="9" height="30" fill="#fff"/>
<rect x="814" y="329" width="1" height="71" fill="#000"/>
<rect x="809" y="345" width="11" height="52" fill="#000"/>
<rect x="830" y="389" width="1" height="29" fill="#000"/>
<rect x="825" y="395" width="11" height="9" fill="#000"/>
<rect x="846" y="387" width="1" height="24" fill="#000"/>
<rect x="841" y="404" width="11" height="5" fill="#000"/>
<rect x="862" y="387" width="1" height="30" fill="#000"/>
<rect x="857" y="407" width="11" height="1" fill="#000"/>
<rect x="878" y="403" width="1" height="53" fill="#000"/>
<rect x="873" y="407" width="11" height="41" fill="#000"/>
<rect x="894" y="427" width="1" height="44" fill="#000"/>
<rect x="889" y="440" width="11" height="8" fill="#000"/>
<rect x="890" y="441" width="9" height="6" fill="#fff"/>
<rect x="910" y="391" width="1" height="70" fill="#000"/>
<rect x="905" y="421" width="11" height="19" fill="#000"/>
<rect x="906" y="422" width="9" height="17" fill="#fff"/>
<rect x="926" y="392" width="1" height="31" fill="#000"/>
<rect x="921" y="398" width="11" height="24" fill="#000"/>
<rect x="922" y="399" width="9" height="22" fill="#fff"/>
<rect x="942" y="393" width="1" height="21" fill="#000"/>
<rect x="937" y="398" width="11" height="7" fill="#000"/>
<rect x="958" y="393" width="1" height="91" fill="#000"/>
<rect x="953" y="405" width="11" height="39" fill="#000"/>
<rect x="974" y="430" width="1" height="37" fill="#000"/>
<rect x="969" y="438" width="11" height="5" fill="#000"/>
<rect x="970" y="439" width="9" height="3" fill="#fff"/>
<rect x="990" y="402" width="1" height="48" fill="#000"/>
<rect x="985" y="422" width="11" height="17" fill="#000"/>
<rect x="986" y="423" width="9" height="15" fill="#fff"/>
<rect x="1006" y="393" width="1" height="34" fill="#000"/>
<rect x="1001" y="415" width="11" height="8" fill="#000"/>
<rect x="1002" y="416" width="9" height="6" fill="#fff"/>
<rect x="1022" y="408" width="1" height="56" fill="#000"/>
<rect x="1017" y="416" width="11" height="17" fill="#000"/>
<rect x="1038" y="425" width="1" height="24" fill="#000"/>
<rect x="1033" y="433" width="11" height="13" fill="#000"/>
<rect x="1054" y="427" width="1" height="32" fill="#000"/>
<rect x="1049" y="443" width="11" height="2" fill="#000"/>
<rect x="1070" y="437" width="1" height="48" fill="#000"/>
<rect x="1065" y="444" width="11" height="30" fill="#000"/>
<rect x="1086" y="460" width="1" height="23" fill="#000"/>
<rect x="1081" y="473" width="11" height="2" fill="#000"/>
<rect x="1102" y="400" width="1" height="79" fill="#000"/>
<rect x="1097" y="413" width="11" height="62" fill="#000"/>
<rect x="1098" y="414" width="9" height="60" fill="#fff"/>
<rect x="1118" y="381" width="1" height="38" fill="#000"/>
<rect x="1113" y="387" width="11" height="27" fill="#000"/>
<rect x="1114" y="388" width="9" height="25" fill="#fff"/>
<rect x="1134" y="380" width="1" height="17" fill="#000"/>
<rect x="1129" y="384" width="11" height="9" fill="#000"/>
<rect x="1130" y="385" width="9" height="7" fill="#fff"/>
<rect x="1150" y="353" width="1" height="37" fill="#000"/>
<rect x="1145" y="382" width="11" height="3" fill="#000"/>
<rect x="1146" y="383" width="9" height="1" fill="#fff"/>
<rect x="1166" y="364" width="1" height="27" fill="#000"/>
<rect x="1161" y="382" width="11" height="6" fill="#000"/>
<rect x="1182" y="348" width="1" height="42" fill="#000"/>
<rect x="1177" y="356" width="11" height="32" fill="#000"/>
<rect x="1178" y="357" width="9" height="30" fill="#fff"/>
<rect x="1198" y="356" width="1" height="41" fill="#000"/>
<rect x="1193" y="356" width="11" height="30" fill="#000"/>
<rect x="1214" y="366" width="1" height="25" fill="#000"/>
<rect x="1209" y="385" width="11" height="4" fill="#000"/>
<rect x="1230" y="382" width="1" height="17" fill="#000"/>
<rect x="1225" y="388" width="11" height="4" fill="#000"/>
<rect x="1246" y="386" width="1" height="75" fill="#000"/>
<rect x="1241" y="393" width="11" height="54" fill="#000"/>
<rect x="1262" y="440" width="1" height="32" fill="#000"/>
<rect x="1257" y="446" width="11" height="16" fill="#000"/>
<rect x="1278" y="438" width="1" height="38" fill="#000"/>
<rect x="1273" y="462" width="11" height="11" fill="#000"/>
<rect x="1294" y="359" width="1" height="150" fill="#000"/>
<rect x="1289" y="427" width="11" height="45" fill="#000"/>
<rect x="1290" y="428" width="9" height="43" fill="#fff"/>
<rect x="1310" y="401" width="1" height="29" fill="#000"/>
<rect x="1305" y="420" width="11" height="9" fill="#000"/>
<rect x="1306" y="421" width="9" height="7" fill="#fff"/>
<rect x="1326" y="378" width="1" height="48" fill="#000"/>
<rect x="1321" y="382" width="11" height="40" fill="#000"/>
<rect x="1322" y="383" width="9" height="38" fill="#fff"/>
<rect x="1342" y="374" width="1" height="46" fill="#000"/>
<rect x="1337" y="382" width="11" height="32" fill="#000"/>
<rect x="1358" y="412" width="1" height="55" fill="#000"/>
<rect x="1353" y="413" width="11" height="17" fill="#000"/>
<rect x="1374" y="413" width="1" height="23" fill="#000"/>
<rect x="1369" y="423" width="11" height="7" fill="#000"/>
<rect x="1370" y="424" width="9" height="5" fill="#fff"/>
<rect x="1390" y="404" width="1" height="38" fill="#000"/>
<rect x="1385" y="423" width="11" height="12" fill="#000"/>
<rect x="1406" y="425" width="1" height="122" fill="#000"/>
<rect x="1401" y="434" width="11" height="68" fill="#000"/>
<rect x="1422" y="490" width="1" height="22" fill="#000"/>
<rect x="1417" y="491" width="11" height="11" fill="#000"/>
<rect x="1418" y="492" width="9" height="9" fill="#fff"/>
<rect x="1329" y="468" width="97" height="7" fill="#00ff00"/>
</g>
<rect x="-1.5" y="402.5" width="4" height="4" fill="#fff" stroke="#ff0000" stroke-width="1"/>
<rect x="1621.5" y="402.5" width="4" height="4" fill="#fff" stroke="#ff0000" stroke-width="1"/>
<rect x="-1.5" y="440.5" width="4" height="4" fill="#fff" stroke="#ff4500" stroke-width="1"/>
<rect x="1621.5" y="440.5" width="4" height="4" fill="#fff" stroke="#ff4500" stroke-width="1"/>
<rect x="-1.5" y="469.5" width="4" height="4" fill="#fff" stroke="#32cd32" stroke-width="1"/>
<rect x="1621.5" y="469.5" width="4" height="4" fill="#fff" stroke="#32cd32" stroke-width="1"/>
<rect x="-1.5" y="527.5" width="4" height="4" fill="#fff" stroke="#0000ff" stroke-width="1"/>
<rect x="1621.5" y="527.5" width="4" height="4" fill="#fff" stroke="#0000ff" stroke-width="1"/>
<rect x="-1.5" y="560.5" width="4" height="4" fill="#fff" stroke="#0000ff" stroke-width="1"/>
<rect x="1621.5" y="560.5" width="4" height="4" fill="#fff" stroke="#0000ff" stroke-width="1"/>
<rect x="1439" y="471" width="10" height="1" fill="#ff0000"/>
<rect x="1446.5" y="469.5" width="2" height="3" fill="#fff" stroke="#ff0000"/>
<rect x="1449.5" y="459.5" width="73" height="24" fill="#fff" stroke="#ff0000" stroke-width="1"/>
<text x="1451.6" y="480" font-family='"Liberation Sans", sans-serif' font-size="22" fill="#ff0000" textLength="69.4" lengthAdjust="spacingAndGlyphs" shape-rendering="auto">108.208</text>
<g transform="translate(1096.5,512.5) scale(1.075,1)" font-family='"Noto Serif CJK SC", "Noto Sans CJK SC", serif' font-weight="700" font-size="30" shape-rendering="auto"><text x="0" y="0" fill="#06f406" filter="url(#sh)">多空转折点</text></g>
<rect x="0" y="47" width="222" height="68" fill="#fff"/>
<rect x="1" y="49" width="52" height="25" fill="#0a0ab4"/>
<rect x="168" y="49" width="52" height="25" fill="#0a0ab4"/>
<rect x="2" y="50" width="50" height="24" fill="url(#gs)"/>
<rect x="169" y="50" width="50" height="24" fill="url(#gs)"/>
<rect x="1" y="73" width="109" height="40" fill="#0606a8"/>
<rect x="112" y="73" width="108" height="40" fill="#0606a8"/>
<rect x="2" y="73" width="107" height="39" fill="url(#gp)"/>
<rect x="113" y="73" width="106" height="39" fill="url(#gp)"/>
<rect x="5" y="72" width="44" height="1" fill="#1c1cc0"/>
<rect x="172" y="72" width="44" height="1" fill="#1c1cc0"/>
<rect x="5" y="73" width="44" height="1" fill="#9c9cf4"/>
<rect x="172" y="73" width="44" height="1" fill="#9c9cf4"/>
<rect x="55.5" y="49.5" width="110" height="21" fill="#fff" stroke="#a8a8a8"/>
<rect x="56" y="50" width="20" height="20" fill="url(#gbtn)"/>
<rect x="145" y="50" width="20" height="20" fill="url(#gbtn)"/>
<rect x="76" y="50" width="1" height="20" fill="#a8a8a8"/>
<rect x="144" y="50" width="1" height="20" fill="#a8a8a8"/>
<path d="M62.7 58.2h5.600l-2.800 3z" fill="#000" shape-rendering="auto"/>
<path d="M151.700 61.200h5.600l-2.800 -3z" fill="#000" shape-rendering="auto"/>
<g font-family='"Liberation Sans", sans-serif' fill="#fff" shape-rendering="auto">
<text x="13.6" y="65.100" font-size="12.2" textLength="25.4" lengthAdjust="spacingAndGlyphs">SELL</text>
<text x="181.2" y="65.100" font-size="12.2" textLength="24.2" lengthAdjust="spacingAndGlyphs">BUY</text>
<text x="140.5" y="64" font-size="12.3" text-anchor="end" fill="#000">1.00</text>
<text x="24" y="104" font-size="12.2" font-weight="bold" textLength="21.6" lengthAdjust="spacingAndGlyphs">108</text>
<text x="134.800" y="104" font-size="12.2" font-weight="bold" textLength="21.6" lengthAdjust="spacingAndGlyphs">108</text>
<text x="49" y="104" font-size="34.4" textLength="35" lengthAdjust="spacingAndGlyphs">12</text>
<text x="159.500" y="104" font-size="34.4" textLength="36.500" lengthAdjust="spacingAndGlyphs">14</text>
<text x="87.700" y="88" font-size="13" font-weight="bold">4</text>
<text x="199" y="88" font-size="13" font-weight="bold">0</text>
</g>
<path d="M1.2 40h7l-3.5 -4.200z" fill="#000" shape-rendering="auto"/>
<text transform="translate(13.7,41) rotate(0.03) scale(1,1.04)" x="0" y="0" font-family='"Liberation Sans", sans-serif' font-size="9.8" fill="#000" textLength="200.1" lengthAdjust="spacingAndGlyphs" shape-rendering="auto" xml:space="preserve">USDJPY-,H4  108.085 108.129 108.043 108.124</text>
<g>
<rect x="13" y="611" width="2" height="19" fill="#c0c0c0"/>
<rect x="29" y="611" width="2" height="11" fill="#c0c0c0"/>
<rect x="45" y="611" width="2" height="7" fill="#c0c0c0"/>
<rect x="61" y="611" width="2" height="6" fill="#c0c0c0"/>
<rect x="77" y="611" width="2" height="12" fill="#c0c0c0"/>
<rect x="93" y="611" width="2" height="22" fill="#c0c0c0"/>
<rect x="109" y="611" width="2" height="41" fill="#c0c0c0"/>
<rect x="125" y="611" width="2" height="56" fill="#c0c0c0"/>
<rect x="141" y="611" width="2" height="71" fill="#c0c0c0"/>
<rect x="157" y="611" width="2" height="89" fill="#c0c0c0"/>
<rect x="173" y="611" width="2" height="108" fill="#c0c0c0"/>
<rect x="189" y="611" width="2" height="124" fill="#c0c0c0"/>
<rect x="205" y="611" width="2" height="132" fill="#c0c0c0"/>
<rect x="221" y="611" width="2" height="133" fill="#c0c0c0"/>
<rect x="237" y="611" width="2" height="131" fill="#c0c0c0"/>
<rect x="253" y="611" width="2" height="141" fill="#c0c0c0"/>
<rect x="269" y="611" width="2" height="145" fill="#c0c0c0"/>
<rect x="285" y="611" width="2" height="148" fill="#c0c0c0"/>
<rect x="301" y="611" width="2" height="148" fill="#c0c0c0"/>
<rect x="317" y="611" width="2" height="144" fill="#c0c0c0"/>
<rect x="333" y="611" width="2" height="134" fill="#c0c0c0"/>
<rect x="349" y="611" width="2" height="130" fill="#c0c0c0"/>
<rect x="365" y="611" width="2" height="120" fill="#c0c0c0"/>
<rect x="381" y="611" width="2" height="116" fill="#c0c0c0"/>
<rect x="397" y="611" width="2" height="108" fill="#c0c0c0"/>
<rect x="413" y="611" width="2" height="97" fill="#c0c0c0"/>
<rect x="429" y="611" width="2" height="92" fill="#c0c0c0"/>
<rect x="445" y="611" width="2" height="79" fill="#c0c0c0"/>
<rect x="461" y="611" width="2" height="72" fill="#c0c0c0"/>
<rect x="477" y="611" width="2" height="68" fill="#c0c0c0"/>
<rect x="493" y="611" width="2" height="64" fill="#c0c0c0"/>
<rect x="509" y="611" width="2" height="62" fill="#c0c0c0"/>
<rect x="525" y="611" width="2" height="63" fill="#c0c0c0"/>
<rect x="541" y="611" width="2" height="50" fill="#c0c0c0"/>
<rect x="557" y="611" width="2" height="41" fill="#c0c0c0"/>
<rect x="573" y="611" width="2" height="32" fill="#c0c0c0"/>
<rect x="589" y="611" width="2" height="26" fill="#c0c0c0"/>
<rect x="605" y="611" width="2" height="20" fill="#c0c0c0"/>
<rect x="621" y="611" width="2" height="25" fill="#c0c0c0"/>
<rect x="637" y="611" width="2" height="29" fill="#c0c0c0"/>
<rect x="653" y="611" width="2" height="22" fill="#c0c0c0"/>
<rect x="669" y="611" width="2" height="14" fill="#c0c0c0"/>
<rect x="685" y="611" width="2" height="4" fill="#c0c0c0"/>
<rect x="701" y="606" width="2" height="6" fill="#c0c0c0"/>
<rect x="717" y="603" width="2" height="9" fill="#c0c0c0"/>
<rect x="733" y="604" width="2" height="8" fill="#c0c0c0"/>
<rect x="749" y="608" width="2" height="4" fill="#c0c0c0"/>
<rect x="765" y="603" width="2" height="9" fill="#c0c0c0"/>
<rect x="781" y="600" width="2" height="12" fill="#c0c0c0"/>
<rect x="797" y="594" width="2" height="18" fill="#c0c0c0"/>
<rect x="813" y="595" width="2" height="17" fill="#c0c0c0"/>
<rect x="829" y="597" width="2" height="15" fill="#c0c0c0"/>
<rect x="845" y="600" width="2" height="12" fill="#c0c0c0"/>
<rect x="861" y="601" width="2" height="11" fill="#c0c0c0"/>
<rect x="877" y="607" width="2" height="5" fill="#c0c0c0"/>
<rect x="893" y="611" width="2" height="3" fill="#c0c0c0"/>
<rect x="909" y="611" width="2" height="4" fill="#c0c0c0"/>
<rect x="925" y="611" width="2" height="2" fill="#c0c0c0"/>
<rect x="941" y="611" width="2" height="1" fill="#c0c0c0"/>
<rect x="957" y="611" width="2" height="5" fill="#c0c0c0"/>
<rect x="973" y="611" width="2" height="8" fill="#c0c0c0"/>
<rect x="989" y="611" width="2" height="7" fill="#c0c0c0"/>
<rect x="1005" y="611" width="2" height="6" fill="#c0c0c0"/>
<rect x="1021" y="611" width="2" height="8" fill="#c0c0c0"/>
<rect x="1037" y="611" width="2" height="10" fill="#c0c0c0"/>
<rect x="1053" y="611" width="2" height="12" fill="#c0c0c0"/>
<rect x="1069" y="611" width="2" height="17" fill="#c0c0c0"/>
<rect x="1085" y="611" width="2" height="21" fill="#c0c0c0"/>
<rect x="1101" y="611" width="2" height="16" fill="#c0c0c0"/>
<rect x="1117" y="611" width="2" height="9" fill="#c0c0c0"/>
<rect x="1133" y="611" width="2" height="3" fill="#c0c0c0"/>
<rect x="1149" y="607" width="2" height="5" fill="#c0c0c0"/>
<rect x="1165" y="604" width="2" height="8" fill="#c0c0c0"/>
<rect x="1181" y="598" width="2" height="14" fill="#c0c0c0"/>
<rect x="1197" y="596" width="2" height="16" fill="#c0c0c0"/>
<rect x="1213" y="596" width="2" height="16" fill="#c0c0c0"/>
<rect x="1229" y="596" width="2" height="16" fill="#c0c0c0"/>
<rect x="1245" y="604" width="2" height="8" fill="#c0c0c0"/>
<rect x="1261" y="611" width="2" height="1" fill="#c0c0c0"/>
<rect x="1277" y="611" width="2" height="8" fill="#c0c0c0"/>
<rect x="1293" y="611" width="2" height="9" fill="#c0c0c0"/>
<rect x="1309" y="611" width="2" height="8" fill="#c0c0c0"/>
<rect x="1325" y="611" width="2" height="2" fill="#c0c0c0"/>
<rect x="1341" y="611" width="2" height="2" fill="#c0c0c0"/>
<rect x="1357" y="611" width="2" height="3" fill="#c0c0c0"/>
<rect x="1373" y="611" width="2" height="4" fill="#c0c0c0"/>
<rect x="1389" y="611" width="2" height="5" fill="#c0c0c0"/>
<rect x="1405" y="611" width="2" height="15" fill="#c0c0c0"/>
<rect x="1421" y="611" width="2" height="21" fill="#c0c0c0"/>
<path d="M0 657h1v1h-1zM4 656h3v1h-3zM10 655h2v1h-2zM12 654h1v1h-1zM16 653h3v1h-3zM22 651h3v1h-3zM28 650h1v1h-1zM29 649h2v1h-2zM34 648h1v1h-1zM35 647h2v1h-2zM40 646h2v1h-2zM42 645h1v1h-1zM46 644h2v1h-2zM48 643h1v1h-1zM52 642h2v1h-2zM54 641h1v1h-1zM58 640h3v1h-3zM64 638h3v1h-3zM70 636h3v1h-3zM76 635h1v1h-1zM77 634h2v1h-2zM82 633h3v1h-3zM88 633h2v1h-2zM90 632h1v1h-1zM94 632h3v1h-3zM100 631h3v1h-3zM106 630h3v1h-3zM112 630h1v1h-1zM113 631h2v1h-2zM118 632h3v1h-3zM124 633h3v1h-3zM130 634h3v1h-3zM136 635h3v1h-3zM142 636h1v1h-1zM143 637h2v1h-2zM148 639h1v1h-1zM149 640h2v1h-2zM154 642h1v1h-1zM155 643h2v1h-2zM160 645h1v1h-1zM161 646h1v1h-1zM162 647h1v1h-1zM166 650h2v1h-2zM168 651h1v1h-1zM172 654h2v1h-2zM174 655h1v1h-1zM178 659h2v1h-2zM180 660h1v1h-1zM184 664h1v1h-1zM185 665h1v1h-1zM186 666h1v1h-1zM190 669h1v1h-1zM191 670h1v1h-1zM192 671h1v1h-1zM196 674h1v1h-1zM197 675h1v1h-1zM198 676h1v1h-1zM202 679h1v1h-1zM203 680h2v1h-2zM208 684h2v1h-2zM210 685h1v1h-1zM214 689h2v1h-2zM216 690h1v1h-1zM220 693h1v1h-1zM221 694h1v1h-1zM222 695h1v1h-1zM226 698h1v1h-1zM227 699h1v1h-1zM228 700h1v1h-1zM232 703h1v1h-1zM233 704h1v1h-1zM234 705h1v1h-1zM238 708h1v1h-1zM239 709h2v1h-2zM244 712h2v1h-2zM246 713h1v1h-1zM250 716h2v1h-2zM252 717h1v1h-1zM256 719h1v1h-1zM257 720h1v1h-1zM258 721h1v1h-1zM262 724h2v1h-2zM264 725h1v1h-1zM268 728h2v1h-2zM270 729h1v1h-1zM274 731h1v1h-1zM275 732h2v1h-2zM280 734h1v1h-1zM281 735h2v1h-2zM286 737h2v1h-2zM288 738h1v1h-1zM292 740h2v1h-2zM294 741h1v1h-1zM298 742h1v1h-1zM299 743h2v1h-2zM304 745h3v1h-3zM310 746h2v1h-2zM312 747h1v1h-1zM316 748h3v1h-3zM322 748h3v1h-3zM328 749h3v1h-3zM334 749h3v1h-3zM340 749h3v1h-3zM346 749h3v1h-3zM352 749h3v1h-3zM358 748h3v1h-3zM364 748h3v1h-3zM370 747h3v1h-3zM376 747h2v1h-2zM378 746h1v1h-1zM382 746h2v1h-2zM384 745h1v1h-1zM388 744h3v1h-3zM394 743h2v1h-2zM396 742h1v1h-1zM400 741h3v1h-3zM406 739h3v1h-3zM412 738h1v1h-1zM413 737h2v1h-2zM418 735h2v1h-2zM420 734h1v1h-1zM424 733h1v1h-1zM425 732h2v1h-2zM430 730h2v1h-2zM432 729h1v1h-1zM436 727h2v1h-2zM438 726h1v1h-1zM442 725h1v1h-1zM443 724h2v1h-2zM448 722h1v1h-1zM449 721h2v1h-2zM454 719h1v1h-1zM455 718h2v1h-2zM460 716h1v1h-1zM461 715h2v1h-2zM466 713h2v1h-2zM468 712h1v1h-1zM472 711h1v1h-1zM473 710h2v1h-2zM478 708h2v1h-2zM480 707h1v1h-1zM484 705h2v1h-2zM486 704h1v1h-1zM490 703h1v1h-1zM491 702h2v1h-2zM496 700h2v1h-2zM498 699h1v1h-1zM502 697h3v1h-3zM508 695h1v1h-1zM509 694h2v1h-2zM514 692h3v1h-3zM520 690h2v1h-2zM522 689h1v1h-1zM526 688h2v1h-2zM528 687h1v1h-1zM532 686h1v1h-1zM533 685h2v1h-2zM538 683h3v1h-3zM544 681h2v1h-2zM546 680h1v1h-1zM550 679h2v1h-2zM552 678h1v1h-1zM556 677h1v1h-1zM557 676h2v1h-2zM562 674h2v1h-2zM564 673h1v1h-1zM568 672h1v1h-1zM569 671h2v1h-2zM574 669h2v1h-2zM576 668h1v1h-1zM580 667h1v1h-1zM581 666h2v1h-2zM586 664h3v1h-3zM592 662h2v1h-2zM594 661h1v1h-1zM598 660h2v1h-2zM600 659h1v1h-1zM604 658h1v1h-1zM605 657h2v1h-2zM610 655h3v1h-3zM616 653h2v1h-2zM618 652h1v1h-1zM622 651h3v1h-3zM628 650h2v1h-2zM630 649h1v1h-1zM634 649h2v1h-2zM636 648h1v1h-1zM640 647h3v1h-3zM646 646h2v1h-2zM648 645h1v1h-1zM652 644h3v1h-3zM658 643h1v1h-1zM659 642h2v1h-2zM664 641h2v1h-2zM666 640h1v1h-1zM670 639h2v1h-2zM672 638h1v1h-1zM676 637h2v1h-2zM678 636h1v1h-1zM682 635h3v1h-3zM688 633h3v1h-3zM694 631h3v1h-3zM700 630h1v1h-1zM701 629h2v1h-2zM706 628h1v1h-1zM707 627h2v1h-2zM712 626h2v1h-2zM714 625h1v1h-1zM718 624h3v1h-3zM724 623h2v1h-2zM726 622h1v1h-1zM730 622h2v1h-2zM732 621h1v1h-1zM736 621h2v1h-2zM738 620h1v1h-1zM742 620h3v1h-3zM748 619h3v1h-3zM754 618h1v1h-1zM755 617h2v1h-2zM760 616h2v1h-2zM762 615h1v1h-1zM766 614h2v1h-2zM768 613h1v1h-1zM772 612h3v1h-3zM778 611h2v1h-2zM780 610h1v1h-1zM784 609h3v1h-3zM790 608h2v1h-2zM792 607h1v1h-1zM796 606h3v1h-3zM802 605h3v1h-3zM808 604h3v1h-3zM814 603h3v1h-3zM820 602h3v1h-3zM826 601h3v1h-3zM832 601h3v1h-3zM838 600h3v1h-3zM844 600h3v1h-3zM850 600h3v1h-3zM856 600h3v1h-3zM862 600h3v1h-3zM868 600h3v1h-3zM874 600h3v1h-3zM880 600h3v1h-3zM886 601h3v1h-3zM892 601h3v1h-3zM898 601h3v1h-3zM904 602h3v1h-3zM910 602h3v1h-3zM916 602h2v1h-2zM918 603h1v1h-1zM922 603h3v1h-3zM928 603h1v1h-1zM929 604h2v1h-2zM934 605h3v1h-3zM940 606h3v1h-3zM946 607h3v1h-3zM952 607h2v1h-2zM954 608h1v1h-1zM958 608h3v1h-3zM964 609h3v1h-3zM970 610h3v1h-3zM976 610h2v1h-2zM978 611h1v1h-1zM982 611h3v1h-3zM988 612h3v1h-3zM994 612h3v1h-3zM1000 613h3v1h-3zM1006 613h3v1h-3zM1012 614h3v1h-3zM1018 615h3v1h-3zM1024 615h3v1h-3zM1030 616h3v1h-3zM1036 616h3v1h-3zM1042 616h3v1h-3zM1048 617h3v1h-3zM1054 617h3v1h-3zM1060 617h2v1h-2zM1062 618h1v1h-1zM1066 618h3v1h-3zM1072 618h2v1h-2zM1074 619h1v1h-1zM1078 619h3v1h-3zM1084 620h3v1h-3zM1090 621h3v1h-3zM1096 621h2v1h-2zM1098 622h1v1h-1zM1102 622h3v1h-3zM1108 622h3v1h-3zM1114 622h3v1h-3zM1120 622h3v1h-3zM1126 621h3v1h-3zM1132 621h3v1h-3zM1138 621h3v1h-3zM1144 620h3v1h-3zM1150 620h3v1h-3zM1156 619h3v1h-3zM1162 618h3v1h-3zM1168 618h2v1h-2zM1170 617h1v1h-1zM1174 617h3v1h-3zM1180 616h3v1h-3zM1186 615h3v1h-3zM1192 614h3v1h-3zM1198 613h2v1h-2zM1200 612h1v1h-1zM1204 611h3v1h-3zM1210 610h2v1h-2zM1212 609h1v1h-1zM1216 609h1v1h-1zM1217 608h2v1h-2zM1222 607h3v1h-3zM1228 606h3v1h-3zM1234 605h3v1h-3zM1240 605h2v1h-2zM1242 604h1v1h-1zM1246 604h3v1h-3zM1252 604h3v1h-3zM1258 604h3v1h-3zM1264 604h3v1h-3zM1270 603h3v1h-3zM1276 603h3v1h-3zM1282 603h3v1h-3zM1288 604h3v1h-3zM1294 604h3v1h-3zM1300 605h3v1h-3zM1306 606h3v1h-3zM1312 606h2v1h-2zM1314 607h1v1h-1zM1318 607h3v1h-3zM1324 608h3v1h-3zM1330 608h3v1h-3zM1336 609h3v1h-3zM1342 609h3v1h-3zM1348 610h3v1h-3zM1354 611h3v1h-3zM1360 611h2v1h-2zM1362 612h1v1h-1zM1366 612h3v1h-3zM1372 613h3v1h-3zM1378 614h3v1h-3zM1384 614h2v1h-2zM1386 615h1v1h-1zM1390 615h3v1h-3zM1396 615h2v1h-2zM1398 616h1v1h-1zM1402 616h3v1h-3zM1408 616h2v1h-2zM1410 617h1v1h-1zM1414 617h3v1h-3zM1420 618h2v1h-2z" fill="#ff0000"/>
</g>
<text transform="translate(2.2,597) rotate(0.03) scale(1,1.04)" x="0" y="0" font-family='"Liberation Sans", sans-serif' font-size="9.8" fill="#000" textLength="132.8" lengthAdjust="spacingAndGlyphs" shape-rendering="auto" >MACD(12,26,9) -0.0531 -0.0171</text>
<line x1="-1" y1="802.5" x2="1626" y2="802.5" stroke="#c0c0c0" stroke-width="1" stroke-dasharray="3 3"/>
<line x1="-1" y1="849.5" x2="1626" y2="849.5" stroke="#c0c0c0" stroke-width="1" stroke-dasharray="3 3"/>
<line x1="-1" y1="905.5" x2="1626" y2="905.5" stroke="#c0c0c0" stroke-width="1" stroke-dasharray="3 3"/>
<path d="M0 847h1v1h-1zM1 846h1v1h-1zM2 845h2v1h-2zM4 844h2v1h-2zM6 843h1v1h-1zM7 842h2v1h-2zM9 841h1v1h-1zM10 840h2v1h-2zM12 839h2v1h-2zM14 838h3v1h-3zM17 839h5v1h-5zM22 840h6v1h-6zM28 841h5v1h-5zM33 842h5v1h-5zM38 843h6v1h-6zM44 844h4v1h-4zM48 845h2v1h-2zM50 846h2v1h-2zM52 847h2v1h-2zM54 848h3v1h-3zM57 849h2v1h-2zM59 850h2v1h-2zM61 851h2v1h-2zM63 852h2v1h-2zM65 853h1v1h-1zM66 854h2v1h-2zM68 855h1v1h-1zM69 856h1v1h-1zM70 857h2v1h-2zM72 858h1v1h-1zM73 859h2v1h-2zM75 860h1v1h-1zM76 861h2v1h-2zM78 862h1v1h-1zM79 863h2v1h-2zM81 864h2v1h-2zM83 865h2v1h-2zM85 866h2v1h-2zM87 867h2v1h-2zM89 868h2v1h-2zM91 869h2v1h-2zM93 870h2v1h-2zM95 871h1v1h-1zM96 872h2v1h-2zM98 873h1v1h-1zM99 874h1v1h-1zM100 875h2v1h-2zM102 876h1v1h-1zM103 877h1v1h-1zM104 878h2v1h-2zM106 879h1v1h-1zM107 880h1v1h-1zM108 881h2v1h-2zM110 882h19v1h-19zM129 883h5v1h-5zM134 884h6v1h-6zM140 885h4v1h-4zM144 886h2v1h-2zM146 887h3v1h-3zM149 888h3v1h-3zM152 889h2v1h-2zM154 890h3v1h-3zM157 891h3v1h-3zM160 892h4v1h-4zM164 893h4v1h-4zM168 894h4v1h-4zM172 895h10v1h-10zM182 896h9v1h-9zM191 895h2v1h-2zM193 894h2v1h-2zM195 893h2v1h-2zM197 892h2v1h-2zM199 891h2v1h-2zM201 890h2v1h-2zM203 889h2v1h-2zM205 888h2v1h-2zM207 887h2v1h-2zM209 886h2v1h-2zM211 885h2v1h-2zM213 884h2v1h-2zM215 883h2v1h-2zM217 882h2v1h-2zM219 881h2v1h-2zM221 880h9v1h-9zM230 879h9v1h-9zM239 880h2v1h-2zM241 881h1v1h-1zM242 882h2v1h-2zM244 883h2v1h-2zM246 884h1v1h-1zM247 885h2v1h-2zM249 886h1v1h-1zM250 887h2v1h-2zM252 888h2v1h-2zM254 889h3v1h-3zM257 888h5v1h-5zM262 887h6v1h-6zM268 886h10v1h-10zM278 887h11v1h-11zM289 886h5v1h-5zM294 885h6v1h-6zM300 884h5v1h-5zM305 883h5v1h-5zM310 882h6v1h-6zM316 881h3v1h-3zM319 880h1v1h-1zM320 879h2v1h-2zM322 878h1v1h-1zM323 877h1v1h-1zM324 876h1v1h-1zM325 875h1v1h-1zM326 874h2v1h-2zM328 873h1v1h-1zM329 872h1v1h-1zM330 871h1v1h-1zM331 870h2v1h-2zM333 869h1v1h-1zM334 868h2v1h-2zM336 869h2v1h-2zM338 870h2v1h-2zM340 871h2v1h-2zM342 872h3v1h-3zM345 873h2v1h-2zM347 874h2v1h-2zM349 875h2v1h-2zM351 874h2v1h-2zM353 873h1v1h-1zM354 872h2v1h-2zM356 871h2v1h-2zM358 870h1v1h-1zM359 869h2v1h-2zM361 868h1v1h-1zM362 867h2v1h-2zM364 866h2v1h-2zM366 865h2v1h-2zM368 866h2v1h-2zM370 867h3v1h-3zM373 868h3v1h-3zM376 869h2v1h-2zM378 870h3v1h-3zM381 871h2v1h-2zM383 870h2v1h-2zM385 869h2v1h-2zM387 868h2v1h-2zM389 867h2v1h-2zM391 866h2v1h-2zM393 865h2v1h-2zM395 864h2v1h-2zM397 863h3v1h-3zM400 862h4v1h-4zM404 861h4v1h-4zM408 860h4v1h-4zM412 859h4v1h-4zM416 860h3v1h-3zM419 861h3v1h-3zM422 862h4v1h-4zM426 863h3v1h-3zM429 864h2v1h-2zM431 863h1v1h-1zM432 862h2v1h-2zM434 861h1v1h-1zM435 860h1v1h-1zM436 859h2v1h-2zM438 858h1v1h-1zM439 857h1v1h-1zM440 856h2v1h-2zM442 855h1v1h-1zM443 854h1v1h-1zM444 853h2v1h-2zM446 852h2v1h-2zM448 853h3v1h-3zM451 854h3v1h-3zM454 855h4v1h-4zM458 856h3v1h-3zM461 857h4v1h-4zM465 858h5v1h-5zM470 859h6v1h-6zM476 860h22v1h-22zM498 861h8v1h-8zM506 862h6v1h-6zM512 863h4v1h-4zM516 864h4v1h-4zM520 865h4v1h-4zM524 866h3v1h-3zM527 865h1v1h-1zM528 863h1v2h-1zM529 862h1v1h-1zM530 861h1v1h-1zM531 859h1v2h-1zM532 858h1v1h-1zM533 857h1v1h-1zM534 855h1v2h-1zM535 854h1v1h-1zM536 853h1v1h-1zM537 851h1v2h-1zM538 850h1v1h-1zM539 849h1v1h-1zM540 847h1v2h-1zM541 846h1v1h-1zM542 845h3v1h-3zM545 846h5v1h-5zM550 847h6v1h-6zM556 848h10v1h-10zM566 847h41v1h-41zM607 848h1v1h-1zM608 849h1v1h-1zM609 850h1v1h-1zM610 851h1v1h-1zM611 852h1v1h-1zM612 853h1v1h-1zM613 854h1v1h-1zM614 855h2v1h-2zM616 856h1v1h-1zM617 857h1v1h-1zM618 858h1v1h-1zM619 859h1v1h-1zM620 860h1v1h-1zM621 861h1v1h-1zM622 862h17v1h-17zM639 861h1v1h-1zM640 860h1v1h-1zM641 859h1v1h-1zM642 858h1v1h-1zM643 857h1v1h-1zM644 856h1v1h-1zM645 855h1v1h-1zM646 854h2v1h-2zM648 853h1v1h-1zM649 852h1v1h-1zM650 851h1v1h-1zM651 850h1v1h-1zM652 849h1v1h-1zM653 848h1v1h-1zM654 847h2v1h-2zM656 846h4v1h-4zM660 845h4v1h-4zM664 844h4v1h-4zM668 843h4v1h-4zM672 842h3v1h-3zM675 841h3v1h-3zM678 840h4v1h-4zM682 839h3v1h-3zM685 838h19v1h-19zM704 839h2v1h-2zM706 840h3v1h-3zM709 841h3v1h-3zM712 842h2v1h-2zM714 843h3v1h-3zM717 844h3v1h-3zM720 845h2v1h-2zM722 846h3v1h-3zM725 847h3v1h-3zM728 848h2v1h-2zM730 849h3v1h-3zM733 850h3v1h-3zM736 851h4v1h-4zM740 852h4v1h-4zM744 853h4v1h-4zM748 854h3v1h-3zM751 853h1v1h-1zM752 852h2v1h-2zM754 851h1v1h-1zM755 850h1v1h-1zM756 849h2v1h-2zM758 848h1v1h-1zM759 847h1v1h-1zM760 846h2v1h-2zM762 845h1v1h-1zM763 844h1v1h-1zM764 843h2v1h-2zM766 842h18v1h-18zM784 841h3v1h-3zM787 840h3v1h-3zM790 839h4v1h-4zM794 838h3v1h-3zM797 837h2v1h-2zM799 838h2v1h-2zM801 839h1v1h-1zM802 840h2v1h-2zM804 841h1v1h-1zM805 842h1v1h-1zM806 843h2v1h-2zM808 844h1v1h-1zM809 845h2v1h-2zM811 846h1v1h-1zM812 847h2v1h-2zM814 848h8v1h-8zM822 849h16v1h-16zM838 850h25v1h-25zM863 851h2v1h-2zM865 852h2v1h-2zM867 853h2v1h-2zM869 854h1v1h-1zM870 855h2v1h-2zM872 856h2v1h-2zM874 857h2v1h-2zM876 858h2v1h-2zM878 859h4v1h-4zM882 858h8v1h-8zM890 857h6v1h-6zM896 856h3v1h-3zM899 855h3v1h-3zM902 854h4v1h-4zM906 853h3v1h-3zM909 852h3v1h-3zM912 851h2v1h-2zM914 850h3v1h-3zM917 849h3v1h-3zM920 848h2v1h-2zM922 847h3v1h-3zM925 846h5v1h-5zM930 847h8v1h-8zM938 848h5v1h-5zM943 849h2v1h-2zM945 850h2v1h-2zM947 851h2v1h-2zM949 852h1v1h-1zM950 853h2v1h-2zM952 854h2v1h-2zM954 855h2v1h-2zM956 856h2v1h-2zM958 857h8v1h-8zM966 856h10v1h-10zM976 855h3v1h-3zM979 854h3v1h-3zM982 853h4v1h-4zM986 852h3v1h-3zM989 851h9v1h-9zM998 850h10v1h-10zM1008 851h4v1h-4zM1012 852h4v1h-4zM1016 853h4v1h-4zM1020 854h4v1h-4zM1024 855h4v1h-4zM1028 856h4v1h-4zM1032 857h4v1h-4zM1036 858h10v1h-10zM1046 857h9v1h-9zM1055 858h2v1h-2zM1057 859h2v1h-2zM1059 860h2v1h-2zM1061 861h2v1h-2zM1063 862h2v1h-2zM1065 863h2v1h-2zM1067 864h2v1h-2zM1069 865h18v1h-18zM1087 864h1v1h-1zM1088 863h1v1h-1zM1089 861h1v2h-1zM1090 860h1v1h-1zM1091 859h1v1h-1zM1092 858h1v1h-1zM1093 857h1v1h-1zM1094 855h1v2h-1zM1095 854h1v1h-1zM1096 853h1v1h-1zM1097 852h1v1h-1zM1098 851h1v1h-1zM1099 849h1v2h-1zM1100 848h1v1h-1zM1101 847h1v1h-1zM1102 846h2v1h-2zM1104 845h2v1h-2zM1106 844h2v1h-2zM1108 843h2v1h-2zM1110 842h3v1h-3zM1113 841h2v1h-2zM1115 840h2v1h-2zM1117 839h9v1h-9zM1126 838h28v1h-28zM1154 839h8v1h-8zM1162 840h5v1h-5zM1167 839h2v1h-2zM1169 838h2v1h-2zM1171 837h2v1h-2zM1173 836h2v1h-2zM1175 835h2v1h-2zM1177 834h2v1h-2zM1179 833h2v1h-2zM1181 832h2v1h-2zM1183 833h2v1h-2zM1185 834h2v1h-2zM1187 835h2v1h-2zM1189 836h1v1h-1zM1190 837h2v1h-2zM1192 838h2v1h-2zM1194 839h2v1h-2zM1196 840h2v1h-2zM1198 841h4v1h-4zM1202 842h8v1h-8zM1210 843h12v1h-12zM1222 844h9v1h-9zM1231 845h1v1h-1zM1232 846h1v1h-1zM1233 847h1v1h-1zM1234 848h1v1h-1zM1235 849h1v1h-1zM1236 850h1v1h-1zM1237 851h1v1h-1zM1238 852h1v2h-1zM1239 854h1v1h-1zM1240 855h1v1h-1zM1241 856h1v1h-1zM1242 857h1v1h-1zM1243 858h1v1h-1zM1244 859h1v1h-1zM1245 860h1v1h-1zM1246 861h3v1h-3zM1249 862h5v1h-5zM1254 863h6v1h-6zM1260 864h5v1h-5zM1265 865h5v1h-5zM1270 866h6v1h-6zM1276 867h3v1h-3zM1279 866h1v1h-1zM1280 865h1v1h-1zM1281 864h1v1h-1zM1282 863h1v1h-1zM1283 862h1v1h-1zM1284 861h1v1h-1zM1285 860h1v1h-1zM1286 859h2v1h-2zM1288 858h1v1h-1zM1289 857h1v1h-1zM1290 856h1v1h-1zM1291 855h1v1h-1zM1292 854h1v1h-1zM1293 853h1v1h-1zM1294 852h4v1h-4zM1298 851h8v1h-8zM1306 850h5v1h-5zM1311 849h2v1h-2zM1313 848h1v1h-1zM1314 847h2v1h-2zM1316 846h2v1h-2zM1318 845h1v1h-1zM1319 844h2v1h-2zM1321 843h1v1h-1zM1322 842h2v1h-2zM1324 841h2v1h-2zM1326 840h1v1h-1zM1327 841h2v1h-2zM1329 842h2v1h-2zM1331 843h2v1h-2zM1333 844h2v1h-2zM1335 845h2v1h-2zM1337 846h2v1h-2zM1339 847h2v1h-2zM1341 848h3v1h-3zM1344 849h3v1h-3zM1347 850h3v1h-3zM1350 851h4v1h-4zM1354 852h3v1h-3zM1357 853h5v1h-5zM1362 852h8v1h-8zM1370 851h7v1h-7zM1377 852h5v1h-5zM1382 853h6v1h-6zM1388 854h3v1h-3zM1391 855h1v1h-1zM1392 856h1v1h-1zM1393 857h1v1h-1zM1394 858h1v1h-1zM1395 859h1v1h-1zM1396 860h1v1h-1zM1397 861h1v1h-1zM1398 862h1v1h-1zM1399 863h1v1h-1zM1400 864h1v1h-1zM1401 865h1v1h-1zM1402 866h1v1h-1zM1403 867h1v1h-1zM1404 868h1v1h-1zM1405 869h1v1h-1zM1406 870h3v1h-3zM1409 869h5v1h-5zM1414 868h6v1h-6zM1420 867h3v1h-3z" fill="#1e90ff"/>
<text transform="translate(2.2,782) rotate(0.03) scale(1,1.04)" x="0" y="0" font-family='"Liberation Sans", sans-serif' font-size="9.8" fill="#000" textLength="67.4" lengthAdjust="spacingAndGlyphs" shape-rendering="auto" >RSI(14) 39.1552</text>
<rect x="0" y="29" width="1627" height="1" fill="#000"/>
<rect x="1626" y="29" width="1" height="901" fill="#000"/>
<rect x="0" y="582" width="1627" height="1" fill="#000"/>
<rect x="0" y="583" width="1627" height="1" fill="#fff"/>
<rect x="0" y="584" width="1627" height="1" fill="#000"/>
<rect x="0" y="767" width="1627" height="1" fill="#000"/>
<rect x="0" y="768" width="1627" height="1" fill="#fff"/>
<rect x="0" y="769" width="1627" height="1" fill="#000"/>
<rect x="1627" y="586" width="1" height="1" fill="#000"/>
<rect x="1627" y="611" width="1" height="1" fill="#000"/>
<rect x="1627" y="766" width="1" height="1" fill="#000"/>
<rect x="1627" y="771" width="1" height="1" fill="#000"/>
<rect x="1627" y="928" width="1" height="1" fill="#000"/>
<rect x="0" y="929" width="1627" height="1" fill="#000"/>
<path d="M1455 30h12l-6 6z" fill="#c0c0c0" shape-rendering="auto"/>
<rect x="1627" y="49" width="2" height="1" fill="#000"/>
<text transform="translate(1632.5,53) rotate(0.03) scale(1,1.04)" x="0" y="0" font-family='"Liberation Sans", sans-serif' font-size="9.8" fill="#000" textLength="32.3" lengthAdjust="spacingAndGlyphs" shape-rendering="auto" >109.955</text>
<rect x="1627" y="82" width="2" height="1" fill="#000"/>
<text transform="translate(1632.5,86) rotate(0.03) scale(1,1.04)" x="0" y="0" font-family='"Liberation Sans", sans-serif' font-size="9.8" fill="#000" textLength="32.3" lengthAdjust="spacingAndGlyphs" shape-rendering="auto" >109.815</text>
<rect x="1627" y="115" width="2" height="1" fill="#000"/>
<text transform="translate(1632.5,119) rotate(0.03) scale(1,1.04)" x="0" y="0" font-family='"Liberation Sans", sans-serif' font-size="9.8" fill="#000" textLength="32.3" lengthAdjust="spacingAndGlyphs" shape-rendering="auto" >109.675</text>
<rect x="1627" y="148" width="2" height="1" fill="#000"/>
<text transform="translate(1632.5,152) rotate(0.03) scale(1,1.04)" x="0" y="0" font-family='"Liberation Sans", sans-serif' font-size="9.8" fill="#000" textLength="32.3" lengthAdjust="spacingAndGlyphs" shape-rendering="auto" >109.540</text>
<rect x="1627" y="182" width="2" height="1" fill="#000"/>
<text transform="translate(1632.5,186) rotate(0.03) scale(1,1.04)" x="0" y="0" font-family='"Liberation Sans", sans-serif' font-size="9.8" fill="#000" textLength="32.3" lengthAdjust="spacingAndGlyphs" shape-rendering="auto" >109.405</text>
<rect x="1627" y="215" width="2" height="1" fill="#000"/>
<text transform="translate(1632.5,219) rotate(0.03) scale(1,1.04)" x="0" y="0" font-family='"Liberation Sans", sans-serif' font-size="9.8" fill="#000" textLength="32.3" lengthAdjust="spacingAndGlyphs" shape-rendering="auto" >109.265</text>
<rect x="1627" y="248" width="2" height="1" fill="#000"/>
<text transform="translate(1632.5,252) rotate(0.03) scale(1,1.04)" x="0" y="0" font-family='"Liberation Sans", sans-serif' font-size="9.8" fill="#000" textLength="32.3" lengthAdjust="spacingAndGlyphs" shape-rendering="auto" >109.130</text>
<rect x="1627" y="281" width="2" height="1" fill="#000"/>
<text transform="translate(1632.5,285) rotate(0.03) scale(1,1.04)" x="0" y="0" font-family='"Liberation Sans", sans-serif' font-size="9.8" fill="#000" textLength="32.3" lengthAdjust="spacingAndGlyphs" shape-rendering="auto" >108.995</text>
<rect x="1627" y="314" width="2" height="1" fill="#000"/>
<text transform="translate(1632.5,318) rotate(0.03) scale(1,1.04)" x="0" y="0" font-family='"Liberation Sans", sans-serif' font-size="9.8" fill="#000" textLength="32.3" lengthAdjust="spacingAndGlyphs" shape-rendering="auto" >108.855</text>
<rect x="1627" y="347" width="2" height="1" fill="#000"/>
<text transform="translate(1632.5,351) rotate(0.03) scale(1,1.04)" x="0" y="0" font-family='"Liberation Sans", sans-serif' font-size="9.8" fill="#000" textLength="32.3" lengthAdjust="spacingAndGlyphs" shape-rendering="auto" >108.715</text>
<rect x="1627" y="381" width="2" height="1" fill="#000"/>
<text transform="translate(1632.5,385) rotate(0.03) scale(1,1.04)" x="0" y="0" font-family='"Liberation Sans", sans-serif' font-size="9.8" fill="#000" textLength="32.3" lengthAdjust="spacingAndGlyphs" shape-rendering="auto" >108.580</text>
<rect x="1627" y="414" width="2" height="1" fill="#000"/>
<text transform="translate(1632.5,418) rotate(0.03) scale(1,1.04)" x="0" y="0" font-family='"Liberation Sans", sans-serif' font-size="9.8" fill="#000" textLength="32.3" lengthAdjust="spacingAndGlyphs" shape-rendering="auto" >108.445</text>
<rect x="1627" y="447" width="2" height="1" fill="#000"/>
<text transform="translate(1632.5,451) rotate(0.03) scale(1,1.04)" x="0" y="0" font-family='"Liberation Sans", sans-serif' font-size="9.8" fill="#000" textLength="32.3" lengthAdjust="spacingAndGlyphs" shape-rendering="auto" >108.305</text>
<rect x="1627" y="480" width="2" height="1" fill="#000"/>
<text transform="translate(1632.5,484) rotate(0.03) scale(1,1.04)" x="0" y="0" font-family='"Liberation Sans", sans-serif' font-size="9.8" fill="#000" textLength="32.3" lengthAdjust="spacingAndGlyphs" shape-rendering="auto" >108.170</text>
<rect x="1627" y="513" width="2" height="1" fill="#000"/>
<text transform="translate(1632.5,517) rotate(0.03) scale(1,1.04)" x="0" y="0" font-family='"Liberation Sans", sans-serif' font-size="9.8" fill="#000" textLength="32.3" lengthAdjust="spacingAndGlyphs" shape-rendering="auto" >108.035</text>
<rect x="1627" y="546" width="2" height="1" fill="#000"/>
<text transform="translate(1632.5,550) rotate(0.03) scale(1,1.04)" x="0" y="0" font-family='"Liberation Sans", sans-serif' font-size="9.8" fill="#000" textLength="32.3" lengthAdjust="spacingAndGlyphs" shape-rendering="auto" >107.895</text>
<rect x="1627" y="579" width="2" height="1" fill="#000"/>
<text transform="translate(1632.5,583) rotate(0.03) scale(1,1.04)" x="0" y="0" font-family='"Liberation Sans", sans-serif' font-size="9.8" fill="#000" textLength="32.3" lengthAdjust="spacingAndGlyphs" shape-rendering="auto" >107.760</text>
<text transform="translate(1630,595) rotate(0.03) scale(1,1.04)" x="0" y="0" font-family='"Liberation Sans", sans-serif' font-size="9.8" fill="#000" textLength="28" lengthAdjust="spacingAndGlyphs" shape-rendering="auto" >0.0678</text>
<text transform="translate(1630,615) rotate(0.03) scale(1,1.04)" x="0" y="0" font-family='"Liberation Sans", sans-serif' font-size="9.8" fill="#000" textLength="17.9" lengthAdjust="spacingAndGlyphs" shape-rendering="auto" >0.00</text>
<text transform="translate(1630,764) rotate(0.03) scale(1,1.04)" x="0" y="0" font-family='"Liberation Sans", sans-serif' font-size="9.8" fill="#000" textLength="30.8" lengthAdjust="spacingAndGlyphs" shape-rendering="auto" >-0.4103</text>
<text transform="translate(1630.2,780) rotate(0.03) scale(1,1.04)" x="0" y="0" font-family='"Liberation Sans", sans-serif' font-size="9.8" fill="#000" textLength="14.8" lengthAdjust="spacingAndGlyphs" shape-rendering="auto" >100</text>
<text transform="translate(1629.3,806) rotate(0.03) scale(1,1.04)" x="0" y="0" font-family='"Liberation Sans", sans-serif' font-size="9.8" fill="#000" textLength="10" lengthAdjust="spacingAndGlyphs" shape-rendering="auto" >80</text>
<text transform="translate(1629.3,853) rotate(0.03) scale(1,1.04)" x="0" y="0" font-family='"Liberation Sans", sans-serif' font-size="9.8" fill="#000" textLength="10" lengthAdjust="spacingAndGlyphs" shape-rendering="auto" >50</text>
<text transform="translate(1629.8,909) rotate(0.03) scale(1,1.04)" x="0" y="0" font-family='"Liberation Sans", sans-serif' font-size="9.8" fill="#000" textLength="9.5" lengthAdjust="spacingAndGlyphs" shape-rendering="auto" >15</text>
<text transform="translate(1630,926) rotate(0.03) scale(1,1.04)" x="0" y="0" font-family='"Liberation Sans", sans-serif' font-size="9.8" fill="#000" textLength="5" lengthAdjust="spacingAndGlyphs" shape-rendering="auto" >0</text>
<rect x="1628" y="398" width="41" height="11" fill="#ff0000"/>
<text transform="translate(1632.5,407) rotate(0.03) scale(1,1.04)" x="0" y="0" font-family='"Liberation Sans", sans-serif' font-size="9.8" fill="#fff" textLength="32.1" lengthAdjust="spacingAndGlyphs" shape-rendering="auto" >108.485</text>
<rect x="1628" y="436" width="41" height="11" fill="#ff4500"/>
<text transform="translate(1632.5,445) rotate(0.03) scale(1,1.04)" x="0" y="0" font-family='"Liberation Sans", sans-serif' font-size="9.8" fill="#fff" textLength="32.1" lengthAdjust="spacingAndGlyphs" shape-rendering="auto" >108.328</text>
<rect x="1628" y="465" width="41" height="11" fill="#32cd32"/>
<text transform="translate(1632.5,474) rotate(0.03) scale(1,1.04)" x="0" y="0" font-family='"Liberation Sans", sans-serif' font-size="9.8" fill="#fff" textLength="32.1" lengthAdjust="spacingAndGlyphs" shape-rendering="auto" >108.208</text>
<rect x="1628" y="485" width="41" height="11" fill="#000000"/>
<text transform="translate(1632.5,494) rotate(0.03) scale(1,1.04)" x="0" y="0" font-family='"Liberation Sans", sans-serif' font-size="9.8" fill="#fff" textLength="32.1" lengthAdjust="spacingAndGlyphs" shape-rendering="auto" >108.124</text>
<rect x="1628" y="523" width="41" height="11" fill="#0000ff"/>
<text transform="translate(1632.5,532) rotate(0.03) scale(1,1.04)" x="0" y="0" font-family='"Liberation Sans", sans-serif' font-size="9.8" fill="#fff" textLength="32.1" lengthAdjust="spacingAndGlyphs" shape-rendering="auto" >107.969</text>
<rect x="1628" y="556" width="41" height="11" fill="#0000ff"/>
<text transform="translate(1632.5,565) rotate(0.03) scale(1,1.04)" x="0" y="0" font-family='"Liberation Sans", sans-serif' font-size="9.8" fill="#fff" textLength="32.1" lengthAdjust="spacingAndGlyphs" shape-rendering="auto" >107.833</text>
<text transform="translate(-3,942) rotate(0.03) scale(1,1.04)" x="0" y="0" font-family='"Liberation Sans", sans-serif' font-size="9.8" fill="#000" textLength="55" lengthAdjust="spacingAndGlyphs" shape-rendering="auto" >30 May 2019</text>
<rect x="62" y="930" width="1" height="3" fill="#000"/>
<text transform="translate(61,942) rotate(0.03) scale(1,1.04)" x="0" y="0" font-family='"Liberation Sans", sans-serif' font-size="9.8" fill="#000" textLength="57.6" lengthAdjust="spacingAndGlyphs" shape-rendering="auto" >30 May 16:00</text>
<rect x="126" y="930" width="1" height="3" fill="#000"/>
<text transform="translate(125,942) rotate(0.03) scale(1,1.04)" x="0" y="0" font-family='"Liberation Sans", sans-serif' font-size="9.8" fill="#000" textLength="57.6" lengthAdjust="spacingAndGlyphs" shape-rendering="auto" >31 May 08:00</text>
<rect x="190" y="930" width="1" height="3" fill="#000"/>
<text transform="translate(189,942) rotate(0.03) scale(1,1.04)" x="0" y="0" font-family='"Liberation Sans", sans-serif' font-size="9.8" fill="#000" textLength="46.9" lengthAdjust="spacingAndGlyphs" shape-rendering="auto" >3 Jun 00:00</text>
<rect x="254" y="930" width="1" height="3" fill="#000"/>
<text transform="translate(253,942) rotate(0.03) scale(1,1.04)" x="0" y="0" font-family='"Liberation Sans", sans-serif' font-size="9.8" fill="#000" textLength="46.9" lengthAdjust="spacingAndGlyphs" shape-rendering="auto" >3 Jun 16:00</text>
<rect x="318" y="930" width="1" height="3" fill="#000"/>
<text transform="translate(317,942) rotate(0.03) scale(1,1.04)" x="0" y="0" font-family='"Liberation Sans", sans-serif' font-size="9.8" fill="#000" textLength="46.9" lengthAdjust="spacingAndGlyphs" shape-rendering="auto" >4 Jun 08:00</text>
<rect x="382" y="930" width="1" height="3" fill="#000"/>
<text transform="translate(381,942) rotate(0.03) scale(1,1.04)" x="0" y="0" font-family='"Liberation Sans", sans-serif' font-size="9.8" fill="#000" textLength="46.9" lengthAdjust="spacingAndGlyphs" shape-rendering="auto" >5 Jun 00:00</text>
<rect x="446" y="930" width="1" height="3" fill="#000"/>
<text transform="translate(445,942) rotate(0.03) scale(1,1.04)" x="0" y="0" font-family='"Liberation Sans", sans-serif' font-size="9.8" fill="#000" textLength="46.9" lengthAdjust="spacingAndGlyphs" shape-rendering="auto" >5 Jun 16:00</text>
<rect x="510" y="930" width="1" height="3" fill="#000"/>
<text transform="translate(509,942) rotate(0.03) scale(1,1.04)" x="0" y="0" font-family='"Liberation Sans", sans-serif' font-size="9.8" fill="#000" textLength="46.9" lengthAdjust="spacingAndGlyphs" shape-rendering="auto" >6 Jun 08:00</text>
<rect x="574" y="930" width="1" height="3" fill="#000"/>
<text transform="translate(573,942) rotate(0.03) scale(1,1.04)" x="0" y="0" font-family='"Liberation Sans", sans-serif' font-size="9.8" fill="#000" textLength="46.9" lengthAdjust="spacingAndGlyphs" shape-rendering="auto" >7 Jun 00:00</text>
<rect x="638" y="930" width="1" height="3" fill="#000"/>
<text transform="translate(637,942) rotate(0.03) scale(1,1.04)" x="0" y="0" font-family='"Liberation Sans", sans-serif' font-size="9.8" fill="#000" textLength="46.9" lengthAdjust="spacingAndGlyphs" shape-rendering="auto" >7 Jun 16:00</text>
<rect x="702" y="930" width="1" height="3" fill="#000"/>
<text transform="translate(701,942) rotate(0.03) scale(1,1.04)" x="0" y="0" font-family='"Liberation Sans", sans-serif' font-size="9.8" fill="#000" textLength="52.2" lengthAdjust="spacingAndGlyphs" shape-rendering="auto" >10 Jun 08:00</text>
<rect x="766" y="930" width="1" height="3" fill="#000"/>
<text transform="translate(765,942) rotate(0.03) scale(1,1.04)" x="0" y="0" font-family='"Liberation Sans", sans-serif' font-size="9.8" fill="#000" textLength="52.2" lengthAdjust="spacingAndGlyphs" shape-rendering="auto" >11 Jun 00:00</text>
<rect x="830" y="930" width="1" height="3" fill="#000"/>
<text transform="translate(829,942) rotate(0.03) scale(1,1.04)" x="0" y="0" font-family='"Liberation Sans", sans-serif' font-size="9.8" fill="#000" textLength="52.2" lengthAdjust="spacingAndGlyphs" shape-rendering="auto" >11 Jun 16:00</text>
<rect x="894" y="930" width="1" height="3" fill="#000"/>
<text transform="translate(893,942) rotate(0.03) scale(1,1.04)" x="0" y="0" font-family='"Liberation Sans", sans-serif' font-size="9.8" fill="#000" textLength="52.2" lengthAdjust="spacingAndGlyphs" shape-rendering="auto" >12 Jun 08:00</text>
<rect x="958" y="930" width="1" height="3" fill="#000"/>
<text transform="translate(957,942) rotate(0.03) scale(1,1.04)" x="0" y="0" font-family='"Liberation Sans", sans-serif' font-size="9.8" fill="#000" textLength="52.2" lengthAdjust="spacingAndGlyphs" shape-rendering="auto" >13 Jun 00:00</text>
<rect x="1022" y="930" width="1" height="3" fill="#000"/>
<text transform="translate(1021,942) rotate(0.03) scale(1,1.04)" x="0" y="0" font-family='"Liberation Sans", sans-serif' font-size="9.8" fill="#000" textLength="52.2" lengthAdjust="spacingAndGlyphs" shape-rendering="auto" >13 Jun 16:00</text>
<rect x="1086" y="930" width="1" height="3" fill="#000"/>
<text transform="translate(1085,942) rotate(0.03) scale(1,1.04)" x="0" y="0" font-family='"Liberation Sans", sans-serif' font-size="9.8" fill="#000" textLength="52.2" lengthAdjust="spacingAndGlyphs" shape-rendering="auto" >14 Jun 08:00</text>
<rect x="1150" y="930" width="1" height="3" fill="#000"/>
<text transform="translate(1149,942) rotate(0.03) scale(1,1.04)" x="0" y="0" font-family='"Liberation Sans", sans-serif' font-size="9.8" fill="#000" textLength="52.2" lengthAdjust="spacingAndGlyphs" shape-rendering="auto" >17 Jun 00:00</text>
<rect x="1214" y="930" width="1" height="3" fill="#000"/>
<text transform="translate(1213,942) rotate(0.03) scale(1,1.04)" x="0" y="0" font-family='"Liberation Sans", sans-serif' font-size="9.8" fill="#000" textLength="52.2" lengthAdjust="spacingAndGlyphs" shape-rendering="auto" >17 Jun 16:00</text>
<rect x="1278" y="930" width="1" height="3" fill="#000"/>
<text transform="translate(1277,942) rotate(0.03) scale(1,1.04)" x="0" y="0" font-family='"Liberation Sans", sans-serif' font-size="9.8" fill="#000" textLength="52.2" lengthAdjust="spacingAndGlyphs" shape-rendering="auto" >18 Jun 08:00</text>
<rect x="1342" y="930" width="1" height="3" fill="#000"/>
<text transform="translate(1341,942) rotate(0.03) scale(1,1.04)" x="0" y="0" font-family='"Liberation Sans", sans-serif' font-size="9.8" fill="#000" textLength="52.2" lengthAdjust="spacingAndGlyphs" shape-rendering="auto" >19 Jun 00:00</text>
<rect x="1406" y="930" width="1" height="3" fill="#000"/>
<text transform="translate(1405,942) rotate(0.03) scale(1,1.04)" x="0" y="0" font-family='"Liberation Sans", sans-serif' font-size="9.8" fill="#000" textLength="52.2" lengthAdjust="spacingAndGlyphs" shape-rendering="auto" >19 Jun 16:00</text>
<rect x="0" y="950" width="1673" height="1" fill="#e8e8e8"/>
<rect x="1672" y="0" width="1" height="951" fill="#e8e8e8"/>
</svg>
<svg class="tb" width="1673" height="29" viewBox="0 0 1673 29"><defs><linearGradient id="gy" x1="0" y1="0" x2="1" y2="1"><stop offset="0" stop-color="#e6a400"/><stop offset="0.55" stop-color="#ffe65c"/><stop offset="1" stop-color="#eeb41c"/></linearGradient><linearGradient id="gb" x1="0" y1="0" x2="0" y2="1"><stop offset="0" stop-color="#4aa8f4"/><stop offset="1" stop-color="#1f6fd0"/></linearGradient><linearGradient id="gg" x1="0" y1="0" x2="0" y2="1"><stop offset="0" stop-color="#7cff8c"/><stop offset="0.5" stop-color="#18e038"/><stop offset="1" stop-color="#0cb424"/></linearGradient><radialGradient id="gl" cx="0.4" cy="0.35" r="0.7"><stop offset="0" stop-color="#eef6ff"/><stop offset="1" stop-color="#a9cdf2"/></radialGradient><linearGradient id="gcl" x1="0" y1="0" x2="0" y2="1"><stop offset="0" stop-color="#ffffff"/><stop offset="1" stop-color="#b8c6e0"/></linearGradient><linearGradient id="gsig" x1="0" y1="0" x2="0.6" y2="1"><stop offset="0" stop-color="#eef4ea" stop-opacity="0.3"/><stop offset="0.5" stop-color="#cfe6cc"/><stop offset="1" stop-color="#3fa84c"/></linearGradient><linearGradient id="gface" x1="0" y1="0" x2="1" y2="0"><stop offset="0" stop-color="#f2c020"/><stop offset="0.5" stop-color="#fff27a"/><stop offset="1" stop-color="#f0c428"/></linearGradient><radialGradient id="gred" cx="0.5" cy="0.4" r="0.7"><stop offset="0" stop-color="#ff4a20"/><stop offset="1" stop-color="#d01800"/></radialGradient></defs><rect x="0" y="0" width="1673" height="25" fill="#f0f0f0"/><rect x="0" y="25" width="1673" height="1" fill="#a0a0a0" shape-rendering="crispEdges"/><rect x="0" y="26" width="1673" height="1" fill="#696969" shape-rendering="crispEdges"/><rect x="0" y="27" width="1673" height="2" fill="#fff" shape-rendering="crispEdges"/><path d="M-3 5.500h8.500l3.500 3.500v8.500h-12z" fill="#fdfdfd" stroke="#7c7c7c" stroke-width="1"/><path d="M5.500 5.500v3.500h3.500" fill="#e4e4e4" stroke="#7c7c7c" stroke-width="0.800"/><rect x="0" y="7" width="2" height="2" fill="#8a8a8a"/><rect x="0" y="13" width="4" height="1" fill="#9a9a9a"/><path d="M5 11h4v4h4v4h-4v4h-4v-4h-4v-4h4z" fill="#0c8a1c" shape-rendering="crispEdges"/><path d="M6 12h2v4h4v2h-4v4h-2v-4h-4v-2h4z" fill="url(#gg)" shape-rendering="crispEdges"/><text x="15.700" y="16.300" font-family='"Liberation Sans", "Noto Sans CJK SC", sans-serif' font-size="12.100" fill="#000">新订单</text><path d="M64.200 14.400L71.500 19.300L71.500 21L64.200 16z" fill="#d89c10" stroke="#9a6408" stroke-width="0.700"/><path d="M71.500 19.300L79.500 13.200L79.700 14.700L71.500 21z" fill="#efe2a8" stroke="#a07818" stroke-width="0.700"/><path d="M69.700 6.200L79.400 13L71.600 19.300L64.300 14.400L68.300 10.400z" fill="url(#gy)" stroke="#a06808" stroke-width="0.900" stroke-linejoin="round"/><path d="M94 6.500l3.500 1.800v7h-3.500z" fill="#0a9cf8"/><path d="M97.500 8.300l7.800-1.300v8.500h-7.800z" fill="#2a9cff"/><path d="M94 6.500l7-1.200l4.300 1.700l-7.800 1.300z" fill="#1a7ce0"/><rect x="99" y="9.500" width="5" height="1.300" fill="#e6f4ff"/><path d="M95 20.500c-3.600 0-3.700-4.600-0.500-4.800c0.300-2.900 4.300-3.500 5.500-1c1.700-1.500 4.500-0.500 4.300 1.700c3.200 0 3.200 4.100 0 4.100z" fill="url(#gcl)" stroke="#3f62a8" stroke-width="0.900"/><path d="M128 5a8 8 0 0 1 0 16z" fill="url(#gsig)"/><circle cx="128" cy="13" r="7.400" fill="none" stroke="#5f84dc" stroke-width="1.100" stroke-dasharray="23.2 23.3" stroke-dashoffset="-11.6" opacity="0.85"/><circle cx="128" cy="13" r="5" fill="none" stroke="#86a4e4" stroke-width="1" stroke-dasharray="15.7 15.7" stroke-dashoffset="-7.850" opacity="0.85"/><path d="M128 5.600a7.400 7.400 0 0 1 0 14.800" fill="none" stroke="#6aa6b4" stroke-width="1" opacity="0.7"/><path d="M128 8a5 5 0 0 1 0 10" fill="none" stroke="#8ab8c4" stroke-width="0.900" opacity="0.7"/><circle cx="127.700" cy="12.600" r="2" fill="#1a4cd4"/><rect x="127.500" y="13" width="1.500" height="7.800" fill="#10a418"/><path d="M147.600 12.300l7.600 8.300l6-9z" fill="url(#gface)" stroke="#c89618" stroke-width="0.800" stroke-linejoin="round"/><ellipse cx="155" cy="9.600" rx="8" ry="2.900" fill="#58b0e8" stroke="#2a86c0" stroke-width="0.800" transform="rotate(-4 155 9.6)"/><path d="M151.300 8.800c0.300-5 7.300-5 7.600 0c-2 1.300-5.600 1.300-7.600 0z" fill="#7cc4f0" stroke="#2a86c0" stroke-width="0.700"/><circle cx="159.700" cy="16.700" r="4.200" fill="url(#gred)" stroke="#b0200c" stroke-width="0.600"/><rect x="158.300" y="15.300" width="2.800" height="2.800" fill="#fff"/><text x="168.500" y="16.300" font-family='"Liberation Sans", "Noto Sans CJK SC", sans-serif' font-size="11.700" fill="#000">自动交易</text><rect x="223" y="0" width="1" height="25" fill="#a0a0a0" shape-rendering="crispEdges"/><rect x="224" y="0" width="1" height="25" fill="#fff" shape-rendering="crispEdges"/><rect x="227" y="3" width="3" height="1" fill="#a0a0a0" shape-rendering="crispEdges"/><rect x="227" y="5" width="3" height="1" fill="#a0a0a0" shape-rendering="crispEdges"/><rect x="227" y="7" width="3" height="1" fill="#a0a0a0" shape-rendering="crispEdges"/><rect x="227" y="9" width="3" height="1" fill="#a0a0a0" shape-rendering="crispEdges"/><rect x="227" y="11" width="3" height="1" fill="#a0a0a0" shape-rendering="crispEdges"/><rect x="227" y="13" width="3" height="1" fill="#a0a0a0" shape-rendering="crispEdges"/><rect x="227" y="15" width="3" height="1" fill="#a0a0a0" shape-rendering="crispEdges"/><rect x="227" y="17" width="3" height="1" fill="#a0a0a0" shape-rendering="crispEdges"/><rect x="227" y="19" width="3" height="1" fill="#a0a0a0" shape-rendering="crispEdges"/><rect x="227" y="21" width="3" height="1" fill="#a0a0a0" shape-rendering="crispEdges"/><rect x="241" y="8" width="1" height="13" fill="#5f5f5f" shape-rendering="crispEdges"/><path d="M239.8 9.6 L241.5 6.9 L243.2 9.6z" fill="#5f5f5f"/><rect x="239" y="18" width="12" height="1" fill="#5f5f5f" shape-rendering="crispEdges"/><path d="M250.4 16.8 L253 18.5 L250.4 20.2z" fill="#5f5f5f"/><path d="M247.5 8v9M247.5 9.5h3M244.5 15.5h3" stroke="#008000" stroke-width="1" fill="none" shape-rendering="crispEdges"/><rect x="261" y="1" width="25" height="22" fill="#f8f8f8" shape-rendering="crispEdges"/><rect x="261" y="1" width="25" height="1" fill="#a0a0a0" shape-rendering="crispEdges"/><rect x="261" y="1" width="1" height="22" fill="#a0a0a0" shape-rendering="crispEdges"/><rect x="262" y="22" width="24" height="1" fill="#fff" shape-rendering="crispEdges"/><rect x="285" y="2" width="1" height="21" fill="#fff" shape-rendering="crispEdges"/><rect x="269" y="8" width="1" height="13" fill="#5f5f5f" shape-rendering="crispEdges"/><path d="M267.8 9.6 L269.5 6.9 L271.2 9.6z" fill="#5f5f5f"/><rect x="267" y="18" width="12" height="1" fill="#5f5f5f" shape-rendering="crispEdges"/><path d="M278.4 16.8 L281 18.5 L278.4 20.2z" fill="#5f5f5f"/><rect x="275" y="5" width="1" height="12" fill="#0a7a0a" shape-rendering="crispEdges"/><rect x="273" y="8" width="5" height="7" fill="#0a8a0a" shape-rendering="crispEdges"/><rect x="274" y="9" width="3" height="5" fill="#2fe05a" shape-rendering="crispEdges"/><rect x="297" y="8" width="1" height="13" fill="#5f5f5f" shape-rendering="crispEdges"/><path d="M295.8 9.6 L297.5 6.9 L299.2 9.6z" fill="#5f5f5f"/><rect x="295" y="18" width="12" height="1" fill="#5f5f5f" shape-rendering="crispEdges"/><path d="M306.4 16.8 L309 18.5 L306.4 20.2z" fill="#5f5f5f"/><path d="M296 15.6C298.500 14.500 300 10 302.500 10S306 13.200 308 14.500" fill="none" stroke="#3a9a3a" stroke-width="1.200"/><path d="M305.500 12.600L308 14.500" fill="none" stroke="#6a8a6a" stroke-width="1.200"/><rect x="318" y="2" width="1" height="21" fill="#a0a0a0" shape-rendering="crispEdges"/><path d="M336.7 15l5.3 4.200" stroke="#8a7418" stroke-width="3.400" stroke-linecap="round"/><path d="M336.7 15l5.3 4.200" stroke="#e2c43a" stroke-width="2" stroke-linecap="round"/><circle cx="332.9" cy="11" r="5.300" fill="url(#gl)" stroke="#3f7fd0" stroke-width="1.500"/><rect x="329.4" y="10" width="7" height="2" fill="#3a86b8"/><rect x="331.9" y="7.500" width="2" height="7" fill="#3a86b8"/><path d="M364.8 15l5.3 4.200" stroke="#8a7418" stroke-width="3.400" stroke-linecap="round"/><path d="M364.8 15l5.3 4.200" stroke="#e2c43a" stroke-width="2" stroke-linecap="round"/><circle cx="361" cy="11" r="5.300" fill="url(#gl)" stroke="#3f7fd0" stroke-width="1.500"/><rect x="357.5" y="10" width="7" height="2" fill="#3a86b8"/><rect x="383" y="5" width="8" height="8" fill="#4fa423" shape-rendering="crispEdges"/><rect x="383" y="10" width="8" height="3" fill="#2c8410" shape-rendering="crispEdges"/><rect x="384" y="8" width="6" height="4" fill="#f4f8ff" shape-rendering="crispEdges"/><rect x="385" y="9" width="4" height="1" fill="#4fa423" opacity="0.5" shape-rendering="crispEdges"/><rect x="385" y="11" width="4" height="1" fill="#2c8410" shape-rendering="crispEdges"/><rect x="384" y="6" width="1" height="1" fill="#e8f0ff" shape-rendering="crispEdges"/><rect x="391" y="5" width="8" height="8" fill="#3a6ee0" shape-rendering="crispEdges"/><rect x="391" y="10" width="8" height="3" fill="#1638b0" shape-rendering="crispEdges"/><rect x="392" y="8" width="6" height="4" fill="#f4f8ff" shape-rendering="crispEdges"/><rect x="393" y="9" width="4" height="1" fill="#3a6ee0" opacity="0.5" shape-rendering="crispEdges"/><rect x="393" y="11" width="4" height="1" fill="#1638b0" shape-rendering="crispEdges"/><rect x="392" y="6" width="1" height="1" fill="#e8f0ff" shape-rendering="crispEdges"/><rect x="383" y="13" width="8" height="8" fill="#3a6ee0" shape-rendering="crispEdges"/><rect x="383" y="18" width="8" height="3" fill="#1638b0" shape-rendering="crispEdges"/><rect x="384" y="16" width="6" height="4" fill="#f4f8ff" shape-rendering="crispEdges"/><rect x="385" y="17" width="4" height="1" fill="#3a6ee0" opacity="0.5" shape-rendering="crispEdges"/><rect x="385" y="19" width="4" height="1" fill="#1638b0" shape-rendering="crispEdges"/><rect x="384" y="14" width="1" height="1" fill="#e8f0ff" shape-rendering="crispEdges"/><rect x="391" y="13" width="8" height="8" fill="#4fa423" shape-rendering="crispEdges"/><rect x="391" y="18" width="8" height="3" fill="#2c8410" shape-rendering="crispEdges"/><rect x="392" y="16" width="6" height="4" fill="#f4f8ff" shape-rendering="crispEdges"/><rect x="393" y="17" width="4" height="1" fill="#4fa423" opacity="0.5" shape-rendering="crispEdges"/><rect x="393" y="19" width="4" height="1" fill="#2c8410" shape-rendering="crispEdges"/><rect x="392" y="14" width="1" height="1" fill="#e8f0ff" shape-rendering="crispEdges"/><rect x="408" y="2" width="1" height="21" fill="#a0a0a0" shape-rendering="crispEdges"/><rect x="413" y="1" width="25" height="22" fill="#f8f8f8" shape-rendering="crispEdges"/><rect x="413" y="1" width="25" height="1" fill="#a0a0a0" shape-rendering="crispEdges"/><rect x="413" y="1" width="1" height="22" fill="#a0a0a0" shape-rendering="crispEdges"/><rect x="414" y="22" width="24" height="1" fill="#fff" shape-rendering="crispEdges"/><rect x="437" y="2" width="1" height="21" fill="#fff" shape-rendering="crispEdges"/><rect x="421" y="8" width="1" height="13" fill="#5f5f5f" shape-rendering="crispEdges"/><path d="M419.8 9.6 L421.5 6.9 L423.2 9.6z" fill="#5f5f5f"/><rect x="419" y="18" width="12" height="1" fill="#5f5f5f" shape-rendering="crispEdges"/><path d="M430.4 16.8 L433 18.5 L430.4 20.2z" fill="#5f5f5f"/><path d="M426.200 9.200l3.800 3.200l-3.800 3.200z" fill="#7fe88f" stroke="#0f8a1f" stroke-width="1.100" stroke-linejoin="round"/><rect x="441" y="1" width="25" height="22" fill="#f8f8f8" shape-rendering="crispEdges"/><rect x="441" y="1" width="25" height="1" fill="#a0a0a0" shape-rendering="crispEdges"/><rect x="441" y="1" width="1" height="22" fill="#a0a0a0" shape-rendering="crispEdges"/><rect x="442" y="22" width="24" height="1" fill="#fff" shape-rendering="crispEdges"/><rect x="465" y="2" width="1" height="21" fill="#fff" shape-rendering="crispEdges"/><rect x="449" y="8" width="1" height="13" fill="#5f5f5f" shape-rendering="crispEdges"/><path d="M447.8 9.6 L449.5 6.9 L451.2 9.6z" fill="#5f5f5f"/><rect x="447" y="18" width="12" height="1" fill="#5f5f5f" shape-rendering="crispEdges"/><path d="M458.4 16.8 L461 18.5 L458.4 20.2z" fill="#5f5f5f"/><rect x="455" y="7" width="1" height="10" fill="#2a6aaa" shape-rendering="crispEdges"/><path d="M461 12.500h-3.500" stroke="#e04010" stroke-width="1.100" fill="none"/><path d="M459.300 10.300l-2.600 2.200l2.600 2.200z" fill="#e04010"/><rect x="470" y="2" width="1" height="21" fill="#a0a0a0" shape-rendering="crispEdges"/><path d="M480.500 7.500h2v-2h4l2.500 2.500v8.500h-6.500v2h-2z" fill="#fcfcfc" stroke="#8a8a8a" stroke-width="1"/><path d="M484.200 14v-4.500q0-1.200 1.300-1.200M483.200 11h2.500" stroke="#444" stroke-width="0.900" fill="none"/><path d="M488 11h4v4h4v4h-4v4h-4v-4h-4v-4h4z" fill="#0c8a1c" shape-rendering="crispEdges"/><path d="M489 12h2v4h4v2h-4v4h-2v-4h-4v-2h4z" fill="url(#gg)" shape-rendering="crispEdges"/><path d="M501.7 12 h5.6 l-2.8 3z" fill="#000"/><circle cx="526" cy="12.600" r="6.900" fill="#fff" stroke="url(#gb)" stroke-width="2.500"/><circle cx="526" cy="12.600" r="5.400" fill="#f6f9ff" stroke="#b8d0f0" stroke-width="0.600"/><path d="M526 9v3.800h3" stroke="#444" stroke-width="1.100" fill="none"/><path d="M540.9 12 h5.6 l-2.8 3z" fill="#000"/><rect x="557.500" y="6.500" width="15" height="13" fill="#fff" stroke="#2f6fce" stroke-width="1"/><rect x="557" y="6" width="16" height="3" fill="#2f6fce"/><rect x="558" y="14" width="14" height="1" fill="#9ab4dc"/><path d="M559.500 12.500l2.500-1l2 0.500l2.500-1.500l2 0.500l2-1" stroke="#b03020" stroke-width="1.100" fill="none"/><path d="M559.500 17.800l2.500-1l2 0.500l2.500-1.800l2 1.300l2 0.500" stroke="#2a9a3a" stroke-width="1.100" fill="none"/><path d="M579.9 12 h5.6 l-2.8 3z" fill="#000"/><rect x="591" y="0" width="1" height="25" fill="#a0a0a0" shape-rendering="crispEdges"/><rect x="592" y="0" width="1" height="25" fill="#fff" shape-rendering="crispEdges"/><rect x="595" y="3" width="3" height="1" fill="#a0a0a0" shape-rendering="crispEdges"/><rect x="595" y="5" width="3" height="1" fill="#a0a0a0" shape-rendering="crispEdges"/><rect x="595" y="7" width="3" height="1" fill="#a0a0a0" shape-rendering="crispEdges"/><rect x="595" y="9" width="3" height="1" fill="#a0a0a0" shape-rendering="crispEdges"/><rect x="595" y="11" width="3" height="1" fill="#a0a0a0" shape-rendering="crispEdges"/><rect x="595" y="13" width="3" height="1" fill="#a0a0a0" shape-rendering="crispEdges"/><rect x="595" y="15" width="3" height="1" fill="#a0a0a0" shape-rendering="crispEdges"/><rect x="595" y="17" width="3" height="1" fill="#a0a0a0" shape-rendering="crispEdges"/><rect x="595" y="19" width="3" height="1" fill="#a0a0a0" shape-rendering="crispEdges"/><rect x="595" y="21" width="3" height="1" fill="#a0a0a0" shape-rendering="crispEdges"/><rect x="601" y="1" width="25" height="22" fill="#f8f8f8" shape-rendering="crispEdges"/><rect x="601" y="1" width="25" height="1" fill="#a0a0a0" shape-rendering="crispEdges"/><rect x="601" y="1" width="1" height="22" fill="#a0a0a0" shape-rendering="crispEdges"/><rect x="602" y="22" width="24" height="1" fill="#fff" shape-rendering="crispEdges"/><rect x="625" y="2" width="1" height="21" fill="#fff" shape-rendering="crispEdges"/><path d="M609 6L609 17.200L611.600 14.900L614 20.100L615.900 19.200L613.500 14.200L617.300 13.700Z" fill="#4a4a4a"/><rect x="641" y="6" width="1" height="15" fill="#5f5f5f" shape-rendering="crispEdges"/><rect x="634" y="13" width="15" height="1" fill="#5f5f5f" shape-rendering="crispEdges"/><rect x="641" y="13" width="1" height="1" fill="#b0b0a0" shape-rendering="crispEdges"/><rect x="658" y="2" width="1" height="21" fill="#a0a0a0" shape-rendering="crispEdges"/><rect x="675" y="7" width="1" height="13" fill="#5f5f5f" shape-rendering="crispEdges"/><rect x="698" y="13" width="12" height="1" fill="#5f5f5f" shape-rendering="crispEdges"/><path d="M725.700 20L738 7.500" stroke="#5f5f5f" stroke-width="1.100"/><path d="M752.300 14.800L764.800 6.300M753.300 19.800L766 11.300" stroke="#5f5f5f" stroke-width="1.200" fill="none"/><path d="M756.800 9.800l-1.600 9M760.300 7.500l-1.600 9M763.800 5l-1.600 9" stroke="#5f5f5f" stroke-width="1" fill="none"/><text x="762.500" y="21.500" font-family='"Liberation Sans", sans-serif' font-size="6.500" font-weight="bold" fill="#3c3c3c">E</text><line x1="781" y1="6.5" x2="795" y2="6.5" stroke="#5f5f5f" stroke-width="1" stroke-dasharray="1 1" shape-rendering="crispEdges"/><line x1="781" y1="9.5" x2="795" y2="9.5" stroke="#5f5f5f" stroke-width="1" stroke-dasharray="1 1" shape-rendering="crispEdges"/><line x1="781" y1="13.5" x2="795" y2="13.5" stroke="#5f5f5f" stroke-width="1" stroke-dasharray="1 1" shape-rendering="crispEdges"/><line x1="781" y1="17.5" x2="795" y2="17.5" stroke="#5f5f5f" stroke-width="1" stroke-dasharray="1 1" shape-rendering="crispEdges"/><text x="790.500" y="21.500" font-family='"Liberation Sans", sans-serif' font-size="6.500" font-weight="bold" fill="#3c3c3c">F</text><text x="815.700" y="18" font-family='"Liberation Sans", sans-serif' font-size="11.600" fill="#5a5a5a" stroke="#5a5a5a" stroke-width="0.500" text-anchor="middle">A</text><rect x="837.500" y="7.500" width="12" height="12" fill="none" stroke="#5f5f5f" stroke-width="1" stroke-dasharray="1 1" shape-rendering="crispEdges"/><text x="843.900" y="18" font-family='"Liberation Sans", sans-serif' font-size="11.200" fill="#5a5a5a" stroke="#5a5a5a" stroke-width="0.500" text-anchor="middle">T</text><path d="M865.500 10l3-3l3 3l-3 3z M871.500 17l3-3l3 3l-3 3z" fill="#3c3c3c"/><path d="M866 14l3 3l4.500-6" stroke="#3c3c3c" stroke-width="1.300" fill="none"/><path d="M885.7 12 h5.6 l-2.8 3z" fill="#000"/><rect x="897" y="0" width="1" height="25" fill="#a0a0a0" shape-rendering="crispEdges"/><rect x="898" y="0" width="1" height="25" fill="#fff" shape-rendering="crispEdges"/><rect x="901" y="3" width="3" height="1" fill="#a0a0a0" shape-rendering="crispEdges"/><rect x="901" y="5" width="3" height="1" fill="#a0a0a0" shape-rendering="crispEdges"/><rect x="901" y="7" width="3" height="1" fill="#a0a0a0" shape-rendering="crispEdges"/><rect x="901" y="9" width="3" height="1" fill="#a0a0a0" shape-rendering="crispEdges"/><rect x="901" y="11" width="3" height="1" fill="#a0a0a0" shape-rendering="crispEdges"/><rect x="901" y="13" width="3" height="1" fill="#a0a0a0" shape-rendering="crispEdges"/><rect x="901" y="15" width="3" height="1" fill="#a0a0a0" shape-rendering="crispEdges"/><rect x="901" y="17" width="3" height="1" fill="#a0a0a0" shape-rendering="crispEdges"/><rect x="901" y="19" width="3" height="1" fill="#a0a0a0" shape-rendering="crispEdges"/><rect x="901" y="21" width="3" height="1" fill="#a0a0a0" shape-rendering="crispEdges"/><rect x="1047" y="1" width="25" height="22" fill="#f8f8f8" shape-rendering="crispEdges"/><rect x="1047" y="1" width="25" height="1" fill="#a0a0a0" shape-rendering="crispEdges"/><rect x="1047" y="1" width="1" height="22" fill="#a0a0a0" shape-rendering="crispEdges"/><rect x="1048" y="22" width="24" height="1" fill="#fff" shape-rendering="crispEdges"/><rect x="1071" y="2" width="1" height="21" fill="#fff" shape-rendering="crispEdges"/><g font-family='"Liberation Sans", sans-serif' font-size="9.6" fill="#3a3a3a" text-anchor="middle"><text transform="translate(918.7,17) rotate(0.03) scale(0.960,1.030)" x="0" y="0">M1</text><text transform="translate(946.8,17) rotate(0.03) scale(0.960,1.030)" x="0" y="0">M5</text><text transform="translate(975.2,17) rotate(0.03) scale(0.960,1.030)" x="0" y="0">M15</text><text transform="translate(1003.3,17) rotate(0.03) scale(0.960,1.030)" x="0" y="0">M30</text><text transform="translate(1031.3,17) rotate(0.03) scale(0.960,1.030)" x="0" y="0">H1</text><text transform="translate(1059.5,17) rotate(0.03) scale(0.960,1.030)" x="0" y="0">H4</text><text transform="translate(1087.2,17) rotate(0.03) scale(0.960,1.030)" x="0" y="0">D1</text><text transform="translate(1116,17) rotate(0.03) scale(0.960,1.030)" x="0" y="0">W1</text><text transform="translate(1142.8,17) rotate(0.03) scale(0.960,1.030)" x="0" y="0">MN</text></g><rect x="1158" y="0" width="1" height="25" fill="#a0a0a0" shape-rendering="crispEdges"/><rect x="1159" y="0" width="1" height="25" fill="#fff" shape-rendering="crispEdges"/><path d="M1621.300 18l4-4.200" stroke="#2a5fd0" stroke-width="2.400" stroke-linecap="round"/><circle cx="1628.200" cy="10.600" r="4" fill="#f4f8ff" stroke="#2a5fd0" stroke-width="1.700"/><path d="M1655 12.500c0-5.500 12.500-5.500 12.500 0c0 3.200-3.500 4.200-5 4.200l1.500 2.500l-4.200-2.600c-3-0.400-4.800-1.900-4.800-4.100z" fill="#e6e6e6" stroke="#9a9a9a" stroke-width="0.9"/><path d="M1647.500 15.500c0-4.200 9-4.200 9 0c0 2.400-2 3.400-4.400 3.500l-2.800 2.200l0.700-2.500c-1.600-0.500-2.500-1.700-2.500-3.200z" fill="#f4f4f4" stroke="#9a9a9a" stroke-width="0.9"/></svg>
</body></html>
